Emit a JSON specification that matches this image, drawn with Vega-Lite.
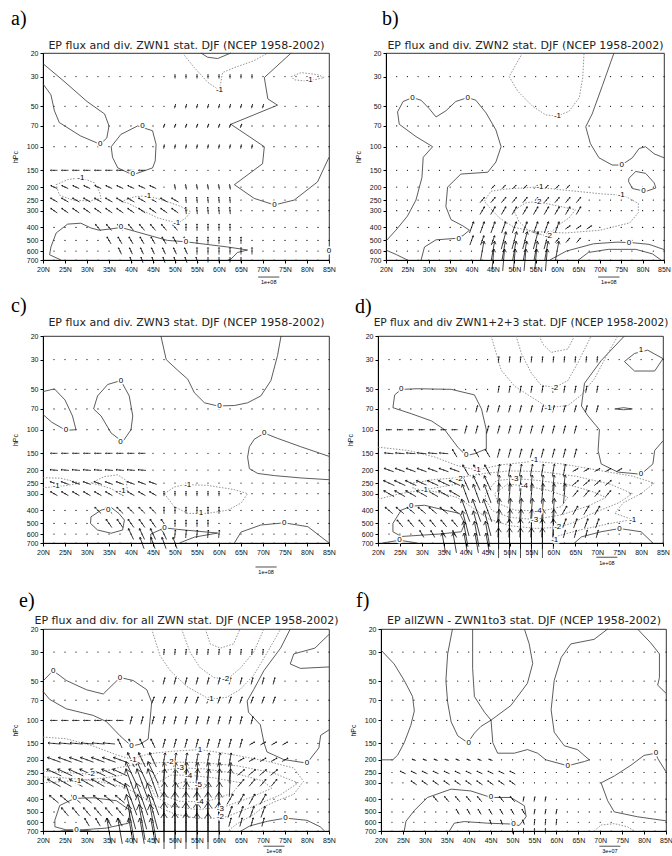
{
"$schema":"https://vega.github.io/schema/vega-lite/v6.json",
"padding":{"left":10,"top":8,"right":0,"bottom":0},
"autosize":{"type":"pad"},
"datasets":{
"G":[
{"x":22.5,"p":30},{"x":25,"p":30},{"x":27.5,"p":30},{"x":30,"p":30},{"x":32.5,"p":30},{"x":35,"p":30},{"x":37.5,"p":30},{"x":40,"p":30},{"x":42.5,"p":30},{"x":45,"p":30},{"x":47.5,"p":30},{"x":50,"p":30},{"x":52.5,"p":30},{"x":55,"p":30},{"x":57.5,"p":30},{"x":60,"p":30},{"x":62.5,"p":30},{"x":65,"p":30},{"x":67.5,"p":30},{"x":70,"p":30},{"x":72.5,"p":30},{"x":75,"p":30},{"x":77.5,"p":30},{"x":80,"p":30},{"x":82.5,"p":30},{"x":85,"p":30},
{"x":22.5,"p":50},{"x":25,"p":50},{"x":27.5,"p":50},{"x":30,"p":50},{"x":32.5,"p":50},{"x":35,"p":50},{"x":37.5,"p":50},{"x":40,"p":50},{"x":42.5,"p":50},{"x":45,"p":50},{"x":47.5,"p":50},{"x":50,"p":50},{"x":52.5,"p":50},{"x":55,"p":50},{"x":57.5,"p":50},{"x":60,"p":50},{"x":62.5,"p":50},{"x":65,"p":50},{"x":67.5,"p":50},{"x":70,"p":50},{"x":72.5,"p":50},{"x":75,"p":50},{"x":77.5,"p":50},{"x":80,"p":50},{"x":82.5,"p":50},{"x":85,"p":50},
{"x":22.5,"p":70},{"x":25,"p":70},{"x":27.5,"p":70},{"x":30,"p":70},{"x":32.5,"p":70},{"x":35,"p":70},{"x":37.5,"p":70},{"x":40,"p":70},{"x":42.5,"p":70},{"x":45,"p":70},{"x":47.5,"p":70},{"x":50,"p":70},{"x":52.5,"p":70},{"x":55,"p":70},{"x":57.5,"p":70},{"x":60,"p":70},{"x":62.5,"p":70},{"x":65,"p":70},{"x":67.5,"p":70},{"x":70,"p":70},{"x":72.5,"p":70},{"x":75,"p":70},{"x":77.5,"p":70},{"x":80,"p":70},{"x":82.5,"p":70},{"x":85,"p":70},
{"x":22.5,"p":100},{"x":25,"p":100},{"x":27.5,"p":100},{"x":30,"p":100},{"x":32.5,"p":100},{"x":35,"p":100},{"x":37.5,"p":100},{"x":40,"p":100},{"x":42.5,"p":100},{"x":45,"p":100},{"x":47.5,"p":100},{"x":50,"p":100},{"x":52.5,"p":100},{"x":55,"p":100},{"x":57.5,"p":100},{"x":60,"p":100},{"x":62.5,"p":100},{"x":65,"p":100},{"x":67.5,"p":100},{"x":70,"p":100},{"x":72.5,"p":100},{"x":75,"p":100},{"x":77.5,"p":100},{"x":80,"p":100},{"x":82.5,"p":100},{"x":85,"p":100},
{"x":22.5,"p":150},{"x":25,"p":150},{"x":27.5,"p":150},{"x":30,"p":150},{"x":32.5,"p":150},{"x":35,"p":150},{"x":37.5,"p":150},{"x":40,"p":150},{"x":42.5,"p":150},{"x":45,"p":150},{"x":47.5,"p":150},{"x":50,"p":150},{"x":52.5,"p":150},{"x":55,"p":150},{"x":57.5,"p":150},{"x":60,"p":150},{"x":62.5,"p":150},{"x":65,"p":150},{"x":67.5,"p":150},{"x":70,"p":150},{"x":72.5,"p":150},{"x":75,"p":150},{"x":77.5,"p":150},{"x":80,"p":150},{"x":82.5,"p":150},{"x":85,"p":150},
{"x":22.5,"p":200},{"x":25,"p":200},{"x":27.5,"p":200},{"x":30,"p":200},{"x":32.5,"p":200},{"x":35,"p":200},{"x":37.5,"p":200},{"x":40,"p":200},{"x":42.5,"p":200},{"x":45,"p":200},{"x":47.5,"p":200},{"x":50,"p":200},{"x":52.5,"p":200},{"x":55,"p":200},{"x":57.5,"p":200},{"x":60,"p":200},{"x":62.5,"p":200},{"x":65,"p":200},{"x":67.5,"p":200},{"x":70,"p":200},{"x":72.5,"p":200},{"x":75,"p":200},{"x":77.5,"p":200},{"x":80,"p":200},{"x":82.5,"p":200},{"x":85,"p":200},
{"x":22.5,"p":250},{"x":25,"p":250},{"x":27.5,"p":250},{"x":30,"p":250},{"x":32.5,"p":250},{"x":35,"p":250},{"x":37.5,"p":250},{"x":40,"p":250},{"x":42.5,"p":250},{"x":45,"p":250},{"x":47.5,"p":250},{"x":50,"p":250},{"x":52.5,"p":250},{"x":55,"p":250},{"x":57.5,"p":250},{"x":60,"p":250},{"x":62.5,"p":250},{"x":65,"p":250},{"x":67.5,"p":250},{"x":70,"p":250},{"x":72.5,"p":250},{"x":75,"p":250},{"x":77.5,"p":250},{"x":80,"p":250},{"x":82.5,"p":250},{"x":85,"p":250},
{"x":22.5,"p":300},{"x":25,"p":300},{"x":27.5,"p":300},{"x":30,"p":300},{"x":32.5,"p":300},{"x":35,"p":300},{"x":37.5,"p":300},{"x":40,"p":300},{"x":42.5,"p":300},{"x":45,"p":300},{"x":47.5,"p":300},{"x":50,"p":300},{"x":52.5,"p":300},{"x":55,"p":300},{"x":57.5,"p":300},{"x":60,"p":300},{"x":62.5,"p":300},{"x":65,"p":300},{"x":67.5,"p":300},{"x":70,"p":300},{"x":72.5,"p":300},{"x":75,"p":300},{"x":77.5,"p":300},{"x":80,"p":300},{"x":82.5,"p":300},{"x":85,"p":300},
{"x":22.5,"p":400},{"x":25,"p":400},{"x":27.5,"p":400},{"x":30,"p":400},{"x":32.5,"p":400},{"x":35,"p":400},{"x":37.5,"p":400},{"x":40,"p":400},{"x":42.5,"p":400},{"x":45,"p":400},{"x":47.5,"p":400},{"x":50,"p":400},{"x":52.5,"p":400},{"x":55,"p":400},{"x":57.5,"p":400},{"x":60,"p":400},{"x":62.5,"p":400},{"x":65,"p":400},{"x":67.5,"p":400},{"x":70,"p":400},{"x":72.5,"p":400},{"x":75,"p":400},{"x":77.5,"p":400},{"x":80,"p":400},{"x":82.5,"p":400},{"x":85,"p":400},
{"x":22.5,"p":500},{"x":25,"p":500},{"x":27.5,"p":500},{"x":30,"p":500},{"x":32.5,"p":500},{"x":35,"p":500},{"x":37.5,"p":500},{"x":40,"p":500},{"x":42.5,"p":500},{"x":45,"p":500},{"x":47.5,"p":500},{"x":50,"p":500},{"x":52.5,"p":500},{"x":55,"p":500},{"x":57.5,"p":500},{"x":60,"p":500},{"x":62.5,"p":500},{"x":65,"p":500},{"x":67.5,"p":500},{"x":70,"p":500},{"x":72.5,"p":500},{"x":75,"p":500},{"x":77.5,"p":500},{"x":80,"p":500},{"x":82.5,"p":500},{"x":85,"p":500},
{"x":22.5,"p":600},{"x":25,"p":600},{"x":27.5,"p":600},{"x":30,"p":600},{"x":32.5,"p":600},{"x":35,"p":600},{"x":37.5,"p":600},{"x":40,"p":600},{"x":42.5,"p":600},{"x":45,"p":600},{"x":47.5,"p":600},{"x":50,"p":600},{"x":52.5,"p":600},{"x":55,"p":600},{"x":57.5,"p":600},{"x":60,"p":600},{"x":62.5,"p":600},{"x":65,"p":600},{"x":67.5,"p":600},{"x":70,"p":600},{"x":72.5,"p":600},{"x":75,"p":600},{"x":77.5,"p":600},{"x":80,"p":600},{"x":82.5,"p":600},{"x":85,"p":600},
{"x":22.5,"p":700},{"x":25,"p":700},{"x":27.5,"p":700},{"x":30,"p":700},{"x":32.5,"p":700},{"x":35,"p":700},{"x":37.5,"p":700},{"x":40,"p":700},{"x":42.5,"p":700},{"x":45,"p":700},{"x":47.5,"p":700},{"x":50,"p":700},{"x":52.5,"p":700},{"x":55,"p":700},{"x":57.5,"p":700},{"x":60,"p":700},{"x":62.5,"p":700},{"x":65,"p":700},{"x":67.5,"p":700},{"x":70,"p":700},{"x":72.5,"p":700},{"x":75,"p":700},{"x":77.5,"p":700},{"x":80,"p":700},{"x":82.5,"p":700},{"x":85,"p":700}
],
"S":[
{"k":"a","c":1,"x":20,"p":24},{"k":"a","c":1,"x":25,"p":33},{"k":"a","c":1,"x":30,"p":46},{"k":"a","c":1,"x":34,"p":57},{"k":"a","c":1,"x":35,"p":70},{"k":"a","c":1,"x":34.5,"p":86},{"k":"a","c":1,"x":33,"p":96},{"k":"a","c":1,"x":28.5,"p":83},{"k":"a","c":1,"x":23.7,"p":66},{"k":"a","c":1,"x":22.6,"p":54},{"k":"a","c":1,"x":21.8,"p":41},{"k":"a","c":1,"x":20,"p":34},
{"k":"a","c":2,"x":35.5,"p":100},{"k":"a","c":2,"x":37.7,"p":81},{"k":"a","c":2,"x":41.5,"p":70},{"k":"a","c":2,"x":44.9,"p":76},{"k":"a","c":2,"x":45.7,"p":96},{"k":"a","c":2,"x":45.5,"p":128},{"k":"a","c":2,"x":44.9,"p":144},{"k":"a","c":2,"x":40.4,"p":162},{"k":"a","c":2,"x":37,"p":144},{"k":"a","c":2,"x":35.8,"p":120},{"k":"a","c":2,"x":35.5,"p":100},
{"k":"a","c":3,"x":24.1,"p":700},{"k":"a","c":3,"x":21.5,"p":640},{"k":"a","c":3,"x":21.8,"p":560},{"k":"a","c":3,"x":23,"p":440},{"k":"a","c":3,"x":25.6,"p":378},{"k":"a","c":3,"x":28.6,"p":372},{"k":"a","c":3,"x":30.9,"p":404},{"k":"a","c":3,"x":32.8,"p":420},{"k":"a","c":3,"x":35.5,"p":410},{"k":"a","c":3,"x":37.7,"p":400},{"k":"a","c":3,"x":40.8,"p":427},{"k":"a","c":3,"x":45.3,"p":470},{"k":"a","c":3,"x":48.3,"p":500},{"k":"a","c":3,"x":52.5,"p":512},{"k":"a","c":3,"x":55.9,"p":529},{"k":"a","c":3,"x":62,"p":560},{"k":"a","c":3,"x":66.5,"p":590},{"k":"a","c":3,"x":64.2,"p":615},{"k":"a","c":3,"x":62.7,"p":690},{"k":"a","c":3,"x":62,"p":700},
{"k":"a","c":4,"x":55.9,"p":20},{"k":"a","c":4,"x":57.4,"p":21.5},{"k":"a","c":4,"x":59.7,"p":22},{"k":"a","c":4,"x":62.7,"p":20},
{"k":"a","c":5,"x":76.4,"p":20},{"k":"a","c":5,"x":70.3,"p":30.5},{"k":"a","c":5,"x":71.1,"p":44},{"k":"a","c":5,"x":73.3,"p":49},{"k":"a","c":5,"x":62.7,"p":68},{"k":"a","c":5,"x":70.3,"p":100},{"k":"a","c":5,"x":69.9,"p":134},{"k":"a","c":5,"x":63.5,"p":192},{"k":"a","c":5,"x":68,"p":243},{"k":"a","c":5,"x":72.6,"p":272},{"k":"a","c":5,"x":77.1,"p":250},{"k":"a","c":5,"x":82.4,"p":183},{"k":"a","c":5,"x":85,"p":120},
{"k":"a","c":6,"x":85,"p":570},{"k":"a","c":6,"x":84.3,"p":600},{"k":"a","c":6,"x":85,"p":630},
{"k":"b","c":1,"x":20,"p":505},{"k":"b","c":1,"x":22.3,"p":420},{"k":"b","c":1,"x":25,"p":330},{"k":"b","c":1,"x":27,"p":250},{"k":"b","c":1,"x":28.4,"p":170},{"k":"b","c":1,"x":28.7,"p":120},{"k":"b","c":1,"x":30.9,"p":100},{"k":"b","c":1,"x":27,"p":84},{"k":"b","c":1,"x":23.1,"p":68},{"k":"b","c":1,"x":22.7,"p":55},{"k":"b","c":1,"x":24,"p":46},{"k":"b","c":1,"x":26.2,"p":43},{"k":"b","c":1,"x":28.2,"p":45},{"k":"b","c":1,"x":30.1,"p":52},{"k":"b","c":1,"x":31.7,"p":60},{"k":"b","c":1,"x":34,"p":54},{"k":"b","c":1,"x":36.3,"p":46},{"k":"b","c":1,"x":39.1,"p":43},{"k":"b","c":1,"x":41,"p":45},{"k":"b","c":1,"x":43.4,"p":56},{"k":"b","c":1,"x":45.7,"p":75},{"k":"b","c":1,"x":46.9,"p":100},{"k":"b","c":1,"x":45.7,"p":130},{"k":"b","c":1,"x":43.8,"p":155},{"k":"b","c":1,"x":37.5,"p":160},{"k":"b","c":1,"x":34.4,"p":200},{"k":"b","c":1,"x":34,"p":280},{"k":"b","c":1,"x":35.2,"p":350},{"k":"b","c":1,"x":38,"p":390},{"k":"b","c":1,"x":39.5,"p":420},{"k":"b","c":1,"x":38,"p":460},{"k":"b","c":1,"x":36.3,"p":483},{"k":"b","c":1,"x":31.7,"p":495},{"k":"b","c":1,"x":29,"p":560},{"k":"b","c":1,"x":28.2,"p":700},
{"k":"b","c":2,"x":20,"p":590},{"k":"b","c":2,"x":22.5,"p":640},{"k":"b","c":2,"x":25,"p":700},
{"k":"b","c":3,"x":73.3,"p":20},{"k":"b","c":3,"x":70.6,"p":35},{"k":"b","c":3,"x":68.2,"p":57},{"k":"b","c":3,"x":66.7,"p":71},{"k":"b","c":3,"x":67.8,"p":95},{"k":"b","c":3,"x":69.8,"p":121},{"k":"b","c":3,"x":72.9,"p":137},{"k":"b","c":3,"x":75.1,"p":137},{"k":"b","c":3,"x":77.6,"p":121},{"k":"b","c":3,"x":79.2,"p":103},{"k":"b","c":3,"x":80.7,"p":100},{"k":"b","c":3,"x":82.7,"p":113},{"k":"b","c":3,"x":85,"p":121},
{"k":"b","c":4,"x":76.8,"p":172},{"k":"b","c":4,"x":78.4,"p":153},{"k":"b","c":4,"x":80.7,"p":158},{"k":"b","c":4,"x":82.7,"p":186},{"k":"b","c":4,"x":83.1,"p":203},{"k":"b","c":4,"x":80.7,"p":216},{"k":"b","c":4,"x":77.6,"p":205},{"k":"b","c":4,"x":76.7,"p":181},{"k":"b","c":4,"x":76.8,"p":172},
{"k":"b","c":5,"x":58.3,"p":700},{"k":"b","c":5,"x":62.2,"p":600},{"k":"b","c":5,"x":68.5,"p":530},{"k":"b","c":5,"x":74,"p":515},{"k":"b","c":5,"x":77.6,"p":520},{"k":"b","c":5,"x":81.5,"p":535},{"k":"b","c":5,"x":85,"p":585},
{"k":"b","c":6,"x":65,"p":700},{"k":"b","c":6,"x":67.3,"p":615},{"k":"b","c":6,"x":72,"p":583},{"k":"b","c":6,"x":78.4,"p":583},{"k":"b","c":6,"x":82.3,"p":630},{"k":"b","c":6,"x":84.3,"p":700},
{"k":"c","c":1,"x":46.8,"p":20},{"k":"c","c":1,"x":48,"p":30},{"k":"c","c":1,"x":50.6,"p":36},{"k":"c","c":1,"x":52.9,"p":42},{"k":"c","c":1,"x":54.4,"p":53},{"k":"c","c":1,"x":56.7,"p":63},{"k":"c","c":1,"x":59.7,"p":66.5},{"k":"c","c":1,"x":63.5,"p":66},{"k":"c","c":1,"x":66.5,"p":63},{"k":"c","c":1,"x":69.5,"p":56},{"k":"c","c":1,"x":71.8,"p":43},{"k":"c","c":1,"x":73.3,"p":28},{"k":"c","c":1,"x":74.1,"p":20},
{"k":"c","c":2,"x":20,"p":52},{"k":"c","c":2,"x":22.6,"p":49.6},{"k":"c","c":2,"x":25,"p":60},{"k":"c","c":2,"x":26.7,"p":79},{"k":"c","c":2,"x":27.5,"p":100},{"k":"c","c":2,"x":25.2,"p":101},{"k":"c","c":2,"x":22,"p":88},{"k":"c","c":2,"x":20,"p":77},
{"k":"c","c":3,"x":37.7,"p":43},{"k":"c","c":3,"x":39.6,"p":56},{"k":"c","c":3,"x":40.4,"p":79},{"k":"c","c":3,"x":40,"p":100},{"k":"c","c":3,"x":38.1,"p":123},{"k":"c","c":3,"x":35.5,"p":106},{"k":"c","c":3,"x":33.2,"p":79},{"k":"c","c":3,"x":31.5,"p":70},{"k":"c","c":3,"x":32.4,"p":56},{"k":"c","c":3,"x":34.7,"p":46},{"k":"c","c":3,"x":37.7,"p":43},
{"k":"c","c":4,"x":85,"p":158},{"k":"c","c":4,"x":78.6,"p":134},{"k":"c","c":4,"x":73.3,"p":116},{"k":"c","c":4,"x":70.3,"p":106},{"k":"c","c":4,"x":68,"p":118},{"k":"c","c":4,"x":66.9,"p":134},{"k":"c","c":4,"x":66.5,"p":160},{"k":"c","c":4,"x":66.9,"p":195},{"k":"c","c":4,"x":68.8,"p":212},{"k":"c","c":4,"x":72.6,"p":220},{"k":"c","c":4,"x":78.6,"p":229},{"k":"c","c":4,"x":85,"p":236},
{"k":"c","c":5,"x":30.9,"p":447},{"k":"c","c":5,"x":33.2,"p":398},{"k":"c","c":5,"x":35.5,"p":380},{"k":"c","c":5,"x":37.3,"p":423},{"k":"c","c":5,"x":38.5,"p":472},{"k":"c","c":5,"x":38.1,"p":560},{"k":"c","c":5,"x":35.5,"p":592},{"k":"c","c":5,"x":32.4,"p":560},{"k":"c","c":5,"x":30.8,"p":500},{"k":"c","c":5,"x":30.9,"p":447},
{"k":"c","c":6,"x":44.5,"p":700},{"k":"c","c":6,"x":44.5,"p":600},{"k":"c","c":6,"x":47.6,"p":540},{"k":"c","c":6,"x":50.6,"p":554},{"k":"c","c":6,"x":59.7,"p":590},{"k":"c","c":6,"x":54.4,"p":633},{"k":"c","c":6,"x":51,"p":700},
{"k":"c","c":7,"x":63.5,"p":700},{"k":"c","c":7,"x":65,"p":580},{"k":"c","c":7,"x":69.5,"p":514},{"k":"c","c":7,"x":74.8,"p":495},{"k":"c","c":7,"x":80.2,"p":529},{"k":"c","c":7,"x":85,"p":700},
{"k":"d","c":1,"x":76.2,"p":20},{"k":"d","c":1,"x":70.9,"p":30.5},{"k":"d","c":1,"x":67.1,"p":45},{"k":"d","c":1,"x":66.4,"p":66.5},{"k":"d","c":1,"x":67.9,"p":79},{"k":"d","c":1,"x":70.5,"p":100},{"k":"d","c":1,"x":70.2,"p":143},{"k":"d","c":1,"x":70.9,"p":180},{"k":"d","c":1,"x":74.7,"p":207},{"k":"d","c":1,"x":80,"p":215},{"k":"d","c":1,"x":82.7,"p":180},{"k":"d","c":1,"x":83.1,"p":143},{"k":"d","c":1,"x":85,"p":121},
{"k":"d","c":2,"x":76.2,"p":31},{"k":"d","c":2,"x":78.5,"p":27},{"k":"d","c":2,"x":81.5,"p":25.5},{"k":"d","c":2,"x":85,"p":29.5},{"k":"d","c":2,"x":83.1,"p":36.5},{"k":"d","c":2,"x":78.5,"p":36.5},{"k":"d","c":2,"x":76.2,"p":31},
{"k":"d","c":3,"x":23.4,"p":68.5},{"k":"d","c":3,"x":23.8,"p":55},{"k":"d","c":3,"x":25.3,"p":50},{"k":"d","c":3,"x":29.1,"p":49.5},{"k":"d","c":3,"x":36.7,"p":50},{"k":"d","c":3,"x":42,"p":55},{"k":"d","c":3,"x":43.6,"p":70},{"k":"d","c":3,"x":44.7,"p":100},{"k":"d","c":3,"x":44.7,"p":139},{"k":"d","c":3,"x":42,"p":151},{"k":"d","c":3,"x":40.1,"p":156},{"k":"d","c":3,"x":38.2,"p":135},{"k":"d","c":3,"x":35.2,"p":100},{"k":"d","c":3,"x":32.2,"p":86},{"k":"d","c":3,"x":27.6,"p":76},{"k":"d","c":3,"x":23.4,"p":68.5},
{"k":"d","c":4,"x":23.4,"p":500},{"k":"d","c":4,"x":25.3,"p":398},{"k":"d","c":4,"x":27.6,"p":372},{"k":"d","c":4,"x":30.6,"p":366},{"k":"d","c":4,"x":35.2,"p":398},{"k":"d","c":4,"x":38.6,"p":421},{"k":"d","c":4,"x":39.8,"p":500},{"k":"d","c":4,"x":39,"p":577},{"k":"d","c":4,"x":34,"p":600},{"k":"d","c":4,"x":30.6,"p":610},{"k":"d","c":4,"x":25.3,"p":626},{"k":"d","c":4,"x":23.4,"p":577},{"k":"d","c":4,"x":23.4,"p":500},
{"k":"d","c":5,"x":21,"p":700},{"k":"d","c":5,"x":24.9,"p":668},{"k":"d","c":5,"x":29,"p":700},
{"k":"d","c":6,"x":64.8,"p":700},{"k":"d","c":6,"x":66.4,"p":630},{"k":"d","c":6,"x":70.9,"p":577},{"k":"d","c":6,"x":75.1,"p":546},{"k":"d","c":6,"x":80,"p":577},{"k":"d","c":6,"x":82.7,"p":700},
{"k":"d","c":7,"x":74,"p":70},{"k":"d","c":7,"x":76,"p":68.5},{"k":"d","c":7,"x":78,"p":70},{"k":"d","c":7,"x":76,"p":71},{"k":"d","c":7,"x":74,"p":70},
{"k":"e","c":1,"x":76.2,"p":20},{"k":"e","c":1,"x":74,"p":28},{"k":"e","c":1,"x":70.2,"p":41.6},{"k":"e","c":1,"x":67.9,"p":58},{"k":"e","c":1,"x":66.4,"p":71},{"k":"e","c":1,"x":66.7,"p":86.5},{"k":"e","c":1,"x":69.4,"p":108},{"k":"e","c":1,"x":70.2,"p":147},{"k":"e","c":1,"x":70.9,"p":174},{"k":"e","c":1,"x":74.7,"p":199},{"k":"e","c":1,"x":80,"p":212},{"k":"e","c":1,"x":82.7,"p":162},{"k":"e","c":1,"x":83.1,"p":130},{"k":"e","c":1,"x":85,"p":118},
{"k":"e","c":2,"x":85,"p":22},{"k":"e","c":2,"x":81.8,"p":28},{"k":"e","c":2,"x":77,"p":31},{"k":"e","c":2,"x":76.2,"p":37},{"k":"e","c":2,"x":78.5,"p":40},{"k":"e","c":2,"x":85,"p":39},
{"k":"e","c":3,"x":20,"p":50},{"k":"e","c":3,"x":22.3,"p":41.6},{"k":"e","c":3,"x":25.3,"p":49.5},{"k":"e","c":3,"x":29.9,"p":58.3},{"k":"e","c":3,"x":33.7,"p":62.8},{"k":"e","c":3,"x":37.5,"p":47},{"k":"e","c":3,"x":40.5,"p":49.5},{"k":"e","c":3,"x":43.6,"p":58.3},{"k":"e","c":3,"x":44.7,"p":72.7},{"k":"e","c":3,"x":44.3,"p":102},{"k":"e","c":3,"x":43.9,"p":139},{"k":"e","c":3,"x":42,"p":152},{"k":"e","c":3,"x":40.1,"p":157},{"k":"e","c":3,"x":37.5,"p":131},{"k":"e","c":3,"x":34.4,"p":102},{"k":"e","c":3,"x":31.4,"p":91.5},{"k":"e","c":3,"x":25.3,"p":81.5},{"k":"e","c":3,"x":21.5,"p":69},{"k":"e","c":3,"x":20,"p":60},
{"k":"e","c":4,"x":22.7,"p":578},{"k":"e","c":4,"x":23.8,"p":447},{"k":"e","c":4,"x":27.2,"p":394},{"k":"e","c":4,"x":31.4,"p":390},{"k":"e","c":4,"x":36.7,"p":411},{"k":"e","c":4,"x":39.8,"p":488},{"k":"e","c":4,"x":39.4,"p":610},{"k":"e","c":4,"x":34.4,"p":665},{"k":"e","c":4,"x":29,"p":685},{"k":"e","c":4,"x":25.2,"p":685},{"k":"e","c":4,"x":22.7,"p":650},{"k":"e","c":4,"x":22.7,"p":578},
{"k":"e","c":5,"x":65,"p":700},{"k":"e","c":5,"x":67,"p":640},{"k":"e","c":5,"x":71,"p":590},{"k":"e","c":5,"x":75.1,"p":558},{"k":"e","c":5,"x":80,"p":580},{"k":"e","c":5,"x":83,"p":650},{"k":"e","c":5,"x":84,"p":700},
{"k":"e","c":6,"x":24,"p":700},{"k":"e","c":6,"x":27.6,"p":688},{"k":"e","c":6,"x":31,"p":700},
{"k":"f","c":1,"x":20,"p":29},{"k":"f","c":1,"x":23,"p":37},{"k":"f","c":1,"x":25.3,"p":49.5},{"k":"f","c":1,"x":27.2,"p":65.6},{"k":"f","c":1,"x":27.6,"p":84.6},{"k":"f","c":1,"x":26.8,"p":109},{"k":"f","c":1,"x":25.3,"p":148},{"k":"f","c":1,"x":23.8,"p":184},{"k":"f","c":1,"x":22.7,"p":200},{"k":"f","c":1,"x":20,"p":200},
{"k":"f","c":2,"x":36.3,"p":20},{"k":"f","c":2,"x":35.2,"p":31},{"k":"f","c":2,"x":34.8,"p":49.5},{"k":"f","c":2,"x":35.2,"p":72.7},{"k":"f","c":2,"x":36,"p":102.5},{"k":"f","c":2,"x":37.5,"p":131},{"k":"f","c":2,"x":39.8,"p":148},{"k":"f","c":2,"x":41.3,"p":125},{"k":"f","c":2,"x":42.8,"p":111},{"k":"f","c":2,"x":45.1,"p":99.5},{"k":"f","c":2,"x":49.6,"p":77},{"k":"f","c":2,"x":53.4,"p":52},{"k":"f","c":2,"x":54.6,"p":36.7},{"k":"f","c":2,"x":53.8,"p":26},{"k":"f","c":2,"x":52.7,"p":20},
{"k":"f","c":3,"x":40.9,"p":20},{"k":"f","c":3,"x":40.9,"p":40},{"k":"f","c":3,"x":41.3,"p":65.6},{"k":"f","c":3,"x":43.6,"p":86.5},{"k":"f","c":3,"x":45.1,"p":99.5},{"k":"f","c":3,"x":45.5,"p":148},{"k":"f","c":3,"x":46.6,"p":178},{"k":"f","c":3,"x":50.4,"p":178},{"k":"f","c":3,"x":53.4,"p":167},{"k":"f","c":3,"x":55.7,"p":178},{"k":"f","c":3,"x":57.6,"p":200},{"k":"f","c":3,"x":62.6,"p":222},{"k":"f","c":3,"x":66.4,"p":206},{"k":"f","c":3,"x":67.5,"p":200},{"k":"f","c":3,"x":64.8,"p":167},{"k":"f","c":3,"x":61.8,"p":156},{"k":"f","c":3,"x":59.5,"p":123},{"k":"f","c":3,"x":58.8,"p":83},{"k":"f","c":3,"x":59.5,"p":49.5},{"k":"f","c":3,"x":61.1,"p":33},{"k":"f","c":3,"x":63.3,"p":26},{"k":"f","c":3,"x":68.6,"p":24},{"k":"f","c":3,"x":71.7,"p":20},
{"k":"f","c":4,"x":78.5,"p":20},{"k":"f","c":4,"x":81.5,"p":25.5},{"k":"f","c":4,"x":83.5,"p":31},{"k":"f","c":4,"x":83.5,"p":47},{"k":"f","c":4,"x":83.1,"p":53.7},{"k":"f","c":4,"x":85,"p":62},
{"k":"f","c":5,"x":85,"p":247},{"k":"f","c":5,"x":83.1,"p":195},{"k":"f","c":5,"x":82.7,"p":178},{"k":"f","c":5,"x":80,"p":185},{"k":"f","c":5,"x":77,"p":220},{"k":"f","c":5,"x":73.2,"p":266},{"k":"f","c":5,"x":70.2,"p":300},{"k":"f","c":5,"x":71.7,"p":411},{"k":"f","c":5,"x":73.2,"p":500},{"k":"f","c":5,"x":78.5,"p":545},{"k":"f","c":5,"x":85,"p":585},
{"k":"f","c":6,"x":25.3,"p":700},{"k":"f","c":6,"x":25.7,"p":589},{"k":"f","c":6,"x":27.6,"p":488},{"k":"f","c":6,"x":30.6,"p":388},{"k":"f","c":6,"x":36,"p":335},{"k":"f","c":6,"x":40.5,"p":346},{"k":"f","c":6,"x":45.1,"p":388},{"k":"f","c":6,"x":49.6,"p":388},{"k":"f","c":6,"x":52.7,"p":449},{"k":"f","c":6,"x":53.1,"p":545},{"k":"f","c":6,"x":51.5,"p":636},{"k":"f","c":6,"x":50.2,"p":620},{"k":"f","c":6,"x":44.3,"p":610},{"k":"f","c":6,"x":39,"p":593},{"k":"f","c":6,"x":36.7,"p":610},{"k":"f","c":6,"x":35.6,"p":700}
],
"D":[
{"k":"a","c":7,"x":23,"p":192},{"k":"a","c":7,"x":25.6,"p":176},{"k":"a","c":7,"x":28.6,"p":170},{"k":"a","c":7,"x":31.7,"p":186},{"k":"a","c":7,"x":32.8,"p":216},{"k":"a","c":7,"x":33.2,"p":243},{"k":"a","c":7,"x":30.5,"p":254},{"k":"a","c":7,"x":26.7,"p":250},{"k":"a","c":7,"x":23.7,"p":229},{"k":"a","c":7,"x":23,"p":192},
{"k":"a","c":8,"x":37.7,"p":257},{"k":"a","c":8,"x":40.8,"p":236},{"k":"a","c":8,"x":43.8,"p":232},{"k":"a","c":8,"x":48.3,"p":257},{"k":"a","c":8,"x":51.4,"p":280},{"k":"a","c":8,"x":53.5,"p":305},{"k":"a","c":8,"x":52.5,"p":340},{"k":"a","c":8,"x":50.6,"p":372},{"k":"a","c":8,"x":46.1,"p":340},{"k":"a","c":8,"x":42.3,"p":295},{"k":"a","c":8,"x":39.2,"p":263},{"k":"a","c":8,"x":37.7,"p":257},
{"k":"a","c":9,"x":51.7,"p":20},{"k":"a","c":9,"x":54.4,"p":25.7},{"k":"a","c":9,"x":57.4,"p":33},{"k":"a","c":9,"x":60.1,"p":38},{"k":"a","c":9,"x":60.8,"p":28},{"k":"a","c":9,"x":63.5,"p":25.7},{"k":"a","c":9,"x":68,"p":22.8},{"k":"a","c":9,"x":71.1,"p":20},
{"k":"a","c":10,"x":76.4,"p":30},{"k":"a","c":10,"x":78.7,"p":28},{"k":"a","c":10,"x":82.4,"p":29},{"k":"a","c":10,"x":83.9,"p":30.5},{"k":"a","c":10,"x":80.2,"p":32.5},{"k":"a","c":10,"x":77.1,"p":31.7},{"k":"a","c":10,"x":76.4,"p":30},
{"k":"b","c":7,"x":51.9,"p":20},{"k":"b","c":7,"x":48.8,"p":30},{"k":"b","c":7,"x":50.8,"p":38.5},{"k":"b","c":7,"x":54.3,"p":50},{"k":"b","c":7,"x":57.4,"p":58},{"k":"b","c":7,"x":60.1,"p":59},{"k":"b","c":7,"x":62.8,"p":54.4},{"k":"b","c":7,"x":65.2,"p":43},{"k":"b","c":7,"x":66,"p":30.5},{"k":"b","c":7,"x":66.3,"p":20},
{"k":"b","c":8,"x":43,"p":255},{"k":"b","c":8,"x":44.5,"p":215},{"k":"b","c":8,"x":48,"p":207},{"k":"b","c":8,"x":55,"p":200},{"k":"b","c":8,"x":62.5,"p":212},{"k":"b","c":8,"x":70.5,"p":225},{"k":"b","c":8,"x":75.5,"p":230},{"k":"b","c":8,"x":79,"p":265},{"k":"b","c":8,"x":79,"p":310},{"k":"b","c":8,"x":77,"p":370},{"k":"b","c":8,"x":70,"p":420},{"k":"b","c":8,"x":62,"p":440},{"k":"b","c":8,"x":55,"p":430},{"k":"b","c":8,"x":50,"p":400},{"k":"b","c":8,"x":46.5,"p":340},{"k":"b","c":8,"x":44.5,"p":290},{"k":"b","c":8,"x":43,"p":255},
{"k":"b","c":9,"x":50.8,"p":286},{"k":"b","c":9,"x":52.7,"p":262},{"k":"b","c":9,"x":55,"p":257},{"k":"b","c":9,"x":58.9,"p":271},{"k":"b","c":9,"x":64.3,"p":295},{"k":"b","c":9,"x":62.8,"p":340},{"k":"b","c":9,"x":60.5,"p":381},{"k":"b","c":9,"x":58.1,"p":450},{"k":"b","c":9,"x":57.7,"p":465},{"k":"b","c":9,"x":53.5,"p":427},{"k":"b","c":9,"x":51.1,"p":362},{"k":"b","c":9,"x":50,"p":304},{"k":"b","c":9,"x":50.8,"p":286},
{"k":"c","c":8,"x":20,"p":228},{"k":"c","c":8,"x":24,"p":230},{"k":"c","c":8,"x":28.5,"p":250},{"k":"c","c":8,"x":25,"p":262},{"k":"c","c":8,"x":22,"p":268},{"k":"c","c":8,"x":20,"p":270},
{"k":"c","c":9,"x":30.9,"p":250},{"k":"c","c":9,"x":33.9,"p":224},{"k":"c","c":9,"x":37,"p":217},{"k":"c","c":9,"x":38.9,"p":239},{"k":"c","c":9,"x":39.2,"p":284},{"k":"c","c":9,"x":36.5,"p":288},{"k":"c","c":9,"x":35.5,"p":275},{"k":"c","c":9,"x":33.2,"p":261},{"k":"c","c":9,"x":30.9,"p":250},
{"k":"c","c":10,"x":47.6,"p":300},{"k":"c","c":10,"x":49.8,"p":268},{"k":"c","c":10,"x":52.1,"p":257},{"k":"c","c":10,"x":57.4,"p":260},{"k":"c","c":10,"x":63.5,"p":280},{"k":"c","c":10,"x":66.5,"p":300},{"k":"c","c":10,"x":65,"p":353},{"k":"c","c":10,"x":62,"p":398},{"k":"c","c":10,"x":57.4,"p":421},{"k":"c","c":10,"x":52.9,"p":421},{"k":"c","c":10,"x":49.8,"p":374},{"k":"c","c":10,"x":47.6,"p":300},
{"k":"d","c":8,"x":20,"p":135},{"k":"d","c":8,"x":27,"p":143},{"k":"d","c":8,"x":33,"p":160},{"k":"d","c":8,"x":38,"p":185},{"k":"d","c":8,"x":42.5,"p":200},{"k":"d","c":8,"x":48,"p":183},{"k":"d","c":8,"x":55.5,"p":172},{"k":"d","c":8,"x":62,"p":180},{"k":"d","c":8,"x":70,"p":200},{"k":"d","c":8,"x":78,"p":222},{"k":"d","c":8,"x":83,"p":250},{"k":"d","c":8,"x":80,"p":300},{"k":"d","c":8,"x":76,"p":350},{"k":"d","c":8,"x":74,"p":420},{"k":"d","c":8,"x":78,"p":468},{"k":"d","c":8,"x":73,"p":500},{"k":"d","c":8,"x":66,"p":560},{"k":"d","c":8,"x":61,"p":620},{"k":"d","c":8,"x":60,"p":700},
{"k":"d","c":9,"x":20,"p":330},{"k":"d","c":9,"x":25,"p":300},{"k":"d","c":9,"x":30.6,"p":280},{"k":"d","c":9,"x":35,"p":265},{"k":"d","c":9,"x":38,"p":255},
{"k":"d","c":10,"x":28,"p":250},{"k":"d","c":10,"x":33,"p":235},{"k":"d","c":10,"x":38.5,"p":228},{"k":"d","c":10,"x":44,"p":212},{"k":"d","c":10,"x":50,"p":203},{"k":"d","c":10,"x":57,"p":205},{"k":"d","c":10,"x":65,"p":222},{"k":"d","c":10,"x":73,"p":255},{"k":"d","c":10,"x":78,"p":300},{"k":"d","c":10,"x":75,"p":350},{"k":"d","c":10,"x":69,"p":420},{"k":"d","c":10,"x":64,"p":500},{"k":"d","c":10,"x":61,"p":535},{"k":"d","c":10,"x":56,"p":545},{"k":"d","c":10,"x":50,"p":520},{"k":"d","c":10,"x":45,"p":460},{"k":"d","c":10,"x":42,"p":390},{"k":"d","c":10,"x":38,"p":320},{"k":"d","c":10,"x":33,"p":290},{"k":"d","c":10,"x":28,"p":275},{"k":"d","c":10,"x":28,"p":250},
{"k":"d","c":11,"x":44.5,"p":300},{"k":"d","c":11,"x":47,"p":240},{"k":"d","c":11,"x":51.2,"p":232},{"k":"d","c":11,"x":56,"p":238},{"k":"d","c":11,"x":63,"p":255},{"k":"d","c":11,"x":69,"p":290},{"k":"d","c":11,"x":72,"p":320},{"k":"d","c":11,"x":68,"p":370},{"k":"d","c":11,"x":62,"p":430},{"k":"d","c":11,"x":55.7,"p":468},{"k":"d","c":11,"x":50,"p":450},{"k":"d","c":11,"x":46,"p":400},{"k":"d","c":11,"x":44.5,"p":330},{"k":"d","c":11,"x":44.5,"p":300},
{"k":"d","c":12,"x":46.6,"p":300},{"k":"d","c":12,"x":49.6,"p":254},{"k":"d","c":12,"x":54.2,"p":265},{"k":"d","c":12,"x":58.8,"p":283},{"k":"d","c":12,"x":63.3,"p":318},{"k":"d","c":12,"x":61.8,"p":375},{"k":"d","c":12,"x":57.2,"p":405},{"k":"d","c":12,"x":51.2,"p":398},{"k":"d","c":12,"x":47.4,"p":355},{"k":"d","c":12,"x":46.6,"p":300},
{"k":"d","c":13,"x":45.8,"p":20},{"k":"d","c":13,"x":48.1,"p":36},{"k":"d","c":13,"x":51.2,"p":47.5},{"k":"d","c":13,"x":55.7,"p":59},{"k":"d","c":13,"x":58.8,"p":68.5},{"k":"d","c":13,"x":63.3,"p":66},{"k":"d","c":13,"x":66.4,"p":55},{"k":"d","c":13,"x":69.4,"p":41.5},{"k":"d","c":13,"x":72.4,"p":27},{"k":"d","c":13,"x":74.7,"p":20},
{"k":"d","c":14,"x":51.5,"p":20},{"k":"d","c":14,"x":52.7,"p":27},{"k":"d","c":14,"x":55,"p":38},{"k":"d","c":14,"x":57.2,"p":46.5},{"k":"d","c":14,"x":60.3,"p":48.5},{"k":"d","c":14,"x":63.3,"p":43},{"k":"d","c":14,"x":65.6,"p":31.6},{"k":"d","c":14,"x":68.6,"p":20},
{"k":"d","c":15,"x":56.8,"p":20},{"k":"d","c":15,"x":57.6,"p":23},{"k":"d","c":15,"x":59.5,"p":26.5},{"k":"d","c":15,"x":63.3,"p":25},{"k":"d","c":15,"x":64.8,"p":20},
{"k":"e","c":7,"x":44.7,"p":20},{"k":"e","c":7,"x":46.6,"p":32},{"k":"e","c":7,"x":48.9,"p":41.6},{"k":"e","c":7,"x":52.7,"p":55},{"k":"e","c":7,"x":57.2,"p":67},{"k":"e","c":7,"x":58,"p":69},{"k":"e","c":7,"x":61.8,"p":66.5},{"k":"e","c":7,"x":64.8,"p":58},{"k":"e","c":7,"x":67.9,"p":45},{"k":"e","c":7,"x":70.9,"p":30.5},{"k":"e","c":7,"x":74,"p":20},
{"k":"e","c":8,"x":51.5,"p":20},{"k":"e","c":8,"x":53.4,"p":30},{"k":"e","c":8,"x":55.7,"p":39.5},{"k":"e","c":8,"x":58.8,"p":47},{"k":"e","c":8,"x":61.8,"p":48.5},{"k":"e","c":8,"x":64.8,"p":40},{"k":"e","c":8,"x":67.9,"p":30},{"k":"e","c":8,"x":70.2,"p":20},
{"k":"e","c":9,"x":56.9,"p":20},{"k":"e","c":9,"x":58,"p":26},{"k":"e","c":9,"x":60.3,"p":28},{"k":"e","c":9,"x":63.3,"p":26},{"k":"e","c":9,"x":64.8,"p":20},
{"k":"e","c":10,"x":20,"p":134},{"k":"e","c":10,"x":25.3,"p":138},{"k":"e","c":10,"x":31.4,"p":157},{"k":"e","c":10,"x":36.7,"p":183},{"k":"e","c":10,"x":40.1,"p":198},{"k":"e","c":10,"x":44,"p":180},{"k":"e","c":10,"x":49.3,"p":172},{"k":"e","c":10,"x":55.7,"p":167},{"k":"e","c":10,"x":63.3,"p":183},{"k":"e","c":10,"x":70.9,"p":205},{"k":"e","c":10,"x":77,"p":231},{"k":"e","c":10,"x":79.2,"p":292},{"k":"e","c":10,"x":77,"p":367},{"k":"e","c":10,"x":73.2,"p":411},{"k":"e","c":10,"x":70.2,"p":456},{"k":"e","c":10,"x":68,"p":520},{"k":"e","c":10,"x":64,"p":620},{"k":"e","c":10,"x":62,"p":700},
{"k":"e","c":11,"x":20,"p":245},{"k":"e","c":11,"x":25,"p":250},{"k":"e","c":11,"x":31.3,"p":258},{"k":"e","c":11,"x":37,"p":230},{"k":"e","c":11,"x":42,"p":215},{"k":"e","c":11,"x":48.9,"p":208},{"k":"e","c":11,"x":56,"p":210},{"k":"e","c":11,"x":64,"p":222},{"k":"e","c":11,"x":72,"p":250},{"k":"e","c":11,"x":78,"p":300},{"k":"e","c":11,"x":74,"p":370},{"k":"e","c":11,"x":68,"p":450},{"k":"e","c":11,"x":62,"p":540},{"k":"e","c":11,"x":60,"p":560},{"k":"e","c":11,"x":55,"p":560},{"k":"e","c":11,"x":50,"p":520},{"k":"e","c":11,"x":45,"p":440},{"k":"e","c":11,"x":42,"p":370},{"k":"e","c":11,"x":38,"p":320},{"k":"e","c":11,"x":32,"p":290},{"k":"e","c":11,"x":25,"p":275},{"k":"e","c":11,"x":20,"p":270},
{"k":"e","c":12,"x":44,"p":300},{"k":"e","c":12,"x":46.5,"p":245},{"k":"e","c":12,"x":51.2,"p":230},{"k":"e","c":12,"x":57,"p":235},{"k":"e","c":12,"x":64,"p":255},{"k":"e","c":12,"x":70,"p":290},{"k":"e","c":12,"x":72,"p":330},{"k":"e","c":12,"x":67,"p":390},{"k":"e","c":12,"x":61,"p":460},{"k":"e","c":12,"x":55,"p":480},{"k":"e","c":12,"x":49,"p":450},{"k":"e","c":12,"x":45.5,"p":380},{"k":"e","c":12,"x":44,"p":300},
{"k":"e","c":13,"x":46,"p":300},{"k":"e","c":13,"x":49,"p":262},{"k":"e","c":13,"x":53.1,"p":262},{"k":"e","c":13,"x":59,"p":275},{"k":"e","c":13,"x":65,"p":300},{"k":"e","c":13,"x":63,"p":360},{"k":"e","c":13,"x":57,"p":420},{"k":"e","c":13,"x":51,"p":415},{"k":"e","c":13,"x":47,"p":370},{"k":"e","c":13,"x":46,"p":300},
{"k":"e","c":14,"x":50,"p":310},{"k":"e","c":14,"x":52,"p":295},{"k":"e","c":14,"x":56,"p":300},{"k":"e","c":14,"x":58,"p":320},{"k":"e","c":14,"x":55,"p":335},{"k":"e","c":14,"x":51,"p":330},{"k":"e","c":14,"x":50,"p":310},
{"k":"e","c":15,"x":20,"p":300},{"k":"e","c":15,"x":27.9,"p":288},{"k":"e","c":15,"x":34,"p":275},{"k":"e","c":15,"x":38,"p":262},
{"k":"f","c":7,"x":68.6,"p":700},{"k":"f","c":7,"x":70.2,"p":630},{"k":"f","c":7,"x":73.2,"p":615},{"k":"f","c":7,"x":76.2,"p":650},{"k":"f","c":7,"x":77.8,"p":700}
],
"L":[
{"k":"a","x":33,"p":96,"t":"0"},{"k":"a","x":42.6,"p":70,"t":"0"},{"k":"a","x":40.4,"p":161,"t":"0"},{"k":"a","x":28.6,"p":170,"t":"-1"},{"k":"a","x":43.8,"p":232,"t":"-1"},{"k":"a","x":50.4,"p":370,"t":"-1"},{"k":"a","x":37.7,"p":400,"t":"0"},{"k":"a","x":52.5,"p":512,"t":"0"},{"k":"a","x":60.1,"p":38,"t":"-1"},{"k":"a","x":72.6,"p":272,"t":"0"},{"k":"a","x":80.5,"p":32,"t":"-1"},{"k":"a","x":85,"p":600,"t":"0"},
{"k":"b","x":26.2,"p":43,"t":"0"},{"k":"b","x":39.1,"p":43,"t":"0"},{"k":"b","x":37,"p":485,"t":"0"},{"k":"b","x":60.1,"p":59,"t":"-1"},{"k":"b","x":75.1,"p":137,"t":"0"},{"k":"b","x":80.2,"p":214,"t":"0"},{"k":"b","x":56,"p":200,"t":"-1"},{"k":"b","x":75,"p":228,"t":"-1"},{"k":"b","x":55.5,"p":257,"t":"-2"},{"k":"b","x":58,"p":462,"t":"-2"},{"k":"b","x":76.8,"p":520,"t":"0"},
{"k":"c","x":60.1,"p":66,"t":"0"},{"k":"c","x":25.2,"p":101,"t":"0"},{"k":"c","x":37.7,"p":43,"t":"0"},{"k":"c","x":37.6,"p":123,"t":"0"},{"k":"c","x":70.3,"p":106,"t":"0"},{"k":"c","x":23,"p":262,"t":"-1"},{"k":"c","x":38,"p":288,"t":"-1"},{"k":"c","x":52.9,"p":258,"t":"-1"},{"k":"c","x":55.9,"p":421,"t":"1"},{"k":"c","x":34.8,"p":394,"t":"0"},{"k":"c","x":47.6,"p":540,"t":"0"},{"k":"c","x":74.8,"p":497,"t":"0"},
{"k":"d","x":58.8,"p":69,"t":"-1"},{"k":"d","x":60.3,"p":48.5,"t":"-2"},{"k":"d","x":80,"p":215,"t":"0"},{"k":"d","x":80,"p":25.5,"t":"1"},{"k":"d","x":25.3,"p":50,"t":"0"},{"k":"d","x":40.1,"p":155,"t":"0"},{"k":"d","x":42.6,"p":201,"t":"-1"},{"k":"d","x":55.7,"p":167,"t":"-1"},{"k":"d","x":38.5,"p":232,"t":"-2"},{"k":"d","x":30.6,"p":280,"t":"-1"},{"k":"d","x":51.2,"p":235,"t":"-3"},{"k":"d","x":53.4,"p":265,"t":"-4"},{"k":"d","x":56.5,"p":405,"t":"-4"},{"k":"d","x":55.7,"p":468,"t":"-3"},{"k":"d","x":61,"p":535,"t":"-2"},{"k":"d","x":60.3,"p":670,"t":"-1"},{"k":"d","x":27.6,"p":370,"t":"0"},{"k":"d","x":24.9,"p":668,"t":"0"},{"k":"d","x":75.1,"p":546,"t":"0"},{"k":"d","x":78.1,"p":468,"t":"-1"},
{"k":"e","x":58,"p":69,"t":"-1"},{"k":"e","x":61.5,"p":48.5,"t":"-2"},{"k":"e","x":80,"p":212,"t":"0"},{"k":"e","x":22.3,"p":42,"t":"0"},{"k":"e","x":37.5,"p":47,"t":"0"},{"k":"e","x":40.1,"p":157,"t":"0"},{"k":"e","x":40.5,"p":200,"t":"-1"},{"k":"e","x":55.7,"p":167,"t":"1"},{"k":"e","x":48.9,"p":208,"t":"-2"},{"k":"e","x":31,"p":258,"t":"-2"},{"k":"e","x":51.2,"p":231,"t":"-3"},{"k":"e","x":53.1,"p":265,"t":"-4"},{"k":"e","x":55.3,"p":309,"t":"-5"},{"k":"e","x":55.7,"p":422,"t":"-4"},{"k":"e","x":60.3,"p":475,"t":"-3"},{"k":"e","x":60.3,"p":547,"t":"-2"},{"k":"e","x":27.9,"p":288,"t":"-1"},{"k":"e","x":27.2,"p":392,"t":"0"},{"k":"e","x":27.6,"p":690,"t":"0"},{"k":"e","x":75.1,"p":558,"t":"0"},
{"k":"f","x":40,"p":150,"t":"0"},{"k":"f","x":62.6,"p":222,"t":"0"},{"k":"f","x":82.7,"p":178,"t":"0"},{"k":"f","x":45.1,"p":388,"t":"0"},{"k":"f","x":50.2,"p":620,"t":"0"}
],
"R":[
{"k":"a","x":71.3,"p":1022,"q":938,"x1":68.9,"x2":73.7,"t":"1e+08"},
{"k":"b","x":72.1,"p":1022,"q":938,"x1":69.6,"x2":74.6,"t":"1e+08"},
{"k":"c","x":70.7,"p":1152,"q":1057,"x1":68.3,"x2":73.1,"t":"1e+08"},
{"k":"d","x":72.2,"p":986,"q":894,"x1":69.8,"x2":74.6,"t":"1e+08"},
{"k":"e","x":72.5,"p":990,"q":915,"x1":70.1,"x2":74.9,"t":"1e+08"},
{"k":"f","x":72.2,"p":990,"q":915,"x1":69.8,"x2":74.6,"t":"3e+07"}
],
"A":[
{"k":"a","x":50,"p":30,"l":4,"g":0},{"k":"a","x":52.5,"p":30,"l":4,"g":0},{"k":"a","x":55,"p":30,"l":4,"g":0},{"k":"a","x":57.5,"p":30,"l":4,"g":0},{"k":"a","x":60,"p":30,"l":4,"g":0},{"k":"a","x":62.5,"p":30,"l":4,"g":0},{"k":"a","x":65,"p":30,"l":4,"g":0},{"k":"a","x":67.5,"p":30,"l":4,"g":0},
{"k":"a","x":50,"p":50,"l":4,"g":15},{"k":"a","x":52.5,"p":50,"l":4,"g":15},{"k":"a","x":55,"p":50,"l":4,"g":15},{"k":"a","x":57.5,"p":50,"l":4,"g":15},{"k":"a","x":60,"p":50,"l":4,"g":15},{"k":"a","x":62.5,"p":50,"l":4,"g":15},{"k":"a","x":65,"p":50,"l":4,"g":15},{"k":"a","x":67.5,"p":50,"l":4,"g":15},{"k":"a","x":70,"p":50,"l":4,"g":15},
{"k":"a","x":47.5,"p":70,"l":4,"g":20},{"k":"a","x":50,"p":70,"l":4,"g":20},{"k":"a","x":52.5,"p":70,"l":4,"g":20},{"k":"a","x":55,"p":70,"l":4,"g":20},{"k":"a","x":57.5,"p":70,"l":4,"g":20},{"k":"a","x":60,"p":70,"l":4,"g":20},{"k":"a","x":62.5,"p":70,"l":4,"g":20},{"k":"a","x":65,"p":70,"l":4,"g":20},
{"k":"a","x":47.5,"p":100,"l":4,"g":10},{"k":"a","x":50,"p":100,"l":4,"g":10},{"k":"a","x":52.5,"p":100,"l":4,"g":10},{"k":"a","x":55,"p":100,"l":4,"g":10},{"k":"a","x":57.5,"p":100,"l":4,"g":10},{"k":"a","x":60,"p":100,"l":4,"g":10},{"k":"a","x":62.5,"p":100,"l":4,"g":10},{"k":"a","x":65,"p":100,"l":4,"g":10},{"k":"a","x":67.5,"p":100,"l":4,"g":10},
{"k":"a","x":22.5,"p":150,"l":7,"g":270},{"k":"a","x":25,"p":150,"l":7,"g":270},{"k":"a","x":27.5,"p":150,"l":7,"g":270},{"k":"a","x":30,"p":150,"l":7,"g":270},{"k":"a","x":32.5,"p":150,"l":7,"g":270},{"k":"a","x":35,"p":150,"l":7,"g":270},{"k":"a","x":37.5,"p":150,"l":7,"g":270},{"k":"a","x":40,"p":150,"l":7,"g":270},{"k":"a","x":42.5,"p":150,"l":7,"g":270},
{"k":"a","x":22.5,"p":200,"l":7,"g":295},{"k":"a","x":25,"p":200,"l":7,"g":295},{"k":"a","x":27.5,"p":200,"l":7,"g":295},{"k":"a","x":30,"p":200,"l":7,"g":295},{"k":"a","x":32.5,"p":200,"l":7,"g":295},{"k":"a","x":35,"p":200,"l":7,"g":295},{"k":"a","x":37.5,"p":200,"l":7,"g":295},{"k":"a","x":40,"p":200,"l":7,"g":295},{"k":"a","x":42.5,"p":200,"l":7,"g":295},{"k":"a","x":45,"p":200,"l":7,"g":295},
{"k":"a","x":50,"p":200,"l":5,"g":350},{"k":"a","x":52.5,"p":200,"l":5,"g":350},{"k":"a","x":55,"p":200,"l":5,"g":350},{"k":"a","x":57.5,"p":200,"l":5,"g":350},{"k":"a","x":60,"p":200,"l":5,"g":350},{"k":"a","x":62.5,"p":200,"l":5,"g":350},
{"k":"a","x":22.5,"p":250,"l":8,"g":300},{"k":"a","x":25,"p":250,"l":8,"g":300},{"k":"a","x":27.5,"p":250,"l":8,"g":300},{"k":"a","x":30,"p":250,"l":8,"g":300},{"k":"a","x":32.5,"p":250,"l":8,"g":300},{"k":"a","x":35,"p":250,"l":8,"g":300},{"k":"a","x":37.5,"p":250,"l":8,"g":300},{"k":"a","x":40,"p":250,"l":8,"g":300},{"k":"a","x":42.5,"p":250,"l":8,"g":300},{"k":"a","x":45,"p":250,"l":8,"g":300},{"k":"a","x":47.5,"p":250,"l":8,"g":300},{"k":"a","x":50,"p":250,"l":8,"g":300},
{"k":"a","x":52.5,"p":250,"l":6,"g":355},{"k":"a","x":55,"p":250,"l":6,"g":355},{"k":"a","x":57.5,"p":250,"l":6,"g":355},{"k":"a","x":60,"p":250,"l":6,"g":355},{"k":"a","x":62.5,"p":250,"l":6,"g":355},
{"k":"a","x":22.5,"p":300,"l":8,"g":305},{"k":"a","x":25,"p":300,"l":8,"g":305},{"k":"a","x":27.5,"p":300,"l":8,"g":305},{"k":"a","x":30,"p":300,"l":8,"g":305},{"k":"a","x":32.5,"p":300,"l":8,"g":305},{"k":"a","x":35,"p":300,"l":8,"g":305},{"k":"a","x":37.5,"p":300,"l":8,"g":305},{"k":"a","x":40,"p":300,"l":8,"g":305},{"k":"a","x":42.5,"p":300,"l":8,"g":305},{"k":"a","x":45,"p":300,"l":8,"g":305},{"k":"a","x":47.5,"p":300,"l":8,"g":305},{"k":"a","x":50,"p":300,"l":8,"g":305},
{"k":"a","x":52.5,"p":300,"l":7,"g":355},{"k":"a","x":55,"p":300,"l":7,"g":355},{"k":"a","x":57.5,"p":300,"l":7,"g":355},{"k":"a","x":60,"p":300,"l":7,"g":355},{"k":"a","x":62.5,"p":300,"l":7,"g":355},
{"k":"a","x":32.5,"p":400,"l":8,"g":320},{"k":"a","x":35,"p":400,"l":8,"g":320},{"k":"a","x":37.5,"p":400,"l":8,"g":320},{"k":"a","x":40,"p":400,"l":8,"g":320},{"k":"a","x":42.5,"p":400,"l":8,"g":320},{"k":"a","x":45,"p":400,"l":8,"g":320},{"k":"a","x":47.5,"p":400,"l":8,"g":320},{"k":"a","x":50,"p":400,"l":8,"g":320},
{"k":"a","x":52.5,"p":400,"l":7,"g":0},{"k":"a","x":55,"p":400,"l":7,"g":0},{"k":"a","x":57.5,"p":400,"l":7,"g":0},{"k":"a","x":60,"p":400,"l":7,"g":0},{"k":"a","x":62.5,"p":400,"l":7,"g":0},
{"k":"a","x":35,"p":500,"l":8,"g":330},{"k":"a","x":37.5,"p":500,"l":8,"g":330},{"k":"a","x":40,"p":500,"l":8,"g":330},{"k":"a","x":42.5,"p":500,"l":8,"g":330},{"k":"a","x":45,"p":500,"l":8,"g":330},{"k":"a","x":47.5,"p":500,"l":8,"g":330},{"k":"a","x":50,"p":500,"l":8,"g":330},{"k":"a","x":52.5,"p":500,"l":8,"g":330},
{"k":"a","x":55,"p":500,"l":7,"g":0},{"k":"a","x":57.5,"p":500,"l":7,"g":0},{"k":"a","x":60,"p":500,"l":7,"g":0},{"k":"a","x":62.5,"p":500,"l":7,"g":0},{"k":"a","x":65,"p":500,"l":7,"g":0},
{"k":"a","x":37.5,"p":600,"l":7,"g":335},{"k":"a","x":40,"p":600,"l":7,"g":335},{"k":"a","x":42.5,"p":600,"l":7,"g":335},{"k":"a","x":45,"p":600,"l":7,"g":335},{"k":"a","x":47.5,"p":600,"l":7,"g":335},{"k":"a","x":50,"p":600,"l":7,"g":335},{"k":"a","x":52.5,"p":600,"l":7,"g":335},
{"k":"a","x":55,"p":600,"l":7,"g":0},{"k":"a","x":57.5,"p":600,"l":7,"g":0},{"k":"a","x":60,"p":600,"l":7,"g":0},{"k":"a","x":62.5,"p":600,"l":7,"g":0},{"k":"a","x":65,"p":600,"l":7,"g":0},{"k":"a","x":67.5,"p":600,"l":7,"g":0},
{"k":"a","x":40,"p":700,"l":6,"g":340},{"k":"a","x":42.5,"p":700,"l":6,"g":340},{"k":"a","x":45,"p":700,"l":6,"g":340},{"k":"a","x":47.5,"p":700,"l":6,"g":340},{"k":"a","x":50,"p":700,"l":6,"g":340},{"k":"a","x":52.5,"p":700,"l":6,"g":340},{"k":"a","x":55,"p":700,"l":6,"g":340},
{"k":"a","x":57.5,"p":700,"l":5,"g":0},{"k":"a","x":60,"p":700,"l":5,"g":0},{"k":"a","x":62.5,"p":700,"l":5,"g":0},{"k":"a","x":65,"p":700,"l":5,"g":0},
{"k":"b","x":45,"p":200,"l":5,"g":45},{"k":"b","x":47.5,"p":200,"l":5,"g":45},{"k":"b","x":50,"p":200,"l":5,"g":45},{"k":"b","x":52.5,"p":200,"l":5,"g":45},{"k":"b","x":55,"p":200,"l":5,"g":45},{"k":"b","x":57.5,"p":200,"l":5,"g":45},{"k":"b","x":60,"p":200,"l":5,"g":45},{"k":"b","x":62.5,"p":200,"l":5,"g":45},
{"k":"b","x":42.5,"p":250,"l":7,"g":40},{"k":"b","x":45,"p":250,"l":7,"g":40},{"k":"b","x":47.5,"p":250,"l":7,"g":40},{"k":"b","x":50,"p":250,"l":7,"g":40},{"k":"b","x":52.5,"p":250,"l":7,"g":40},{"k":"b","x":55,"p":250,"l":7,"g":40},{"k":"b","x":57.5,"p":250,"l":7,"g":40},{"k":"b","x":60,"p":250,"l":7,"g":40},{"k":"b","x":62.5,"p":250,"l":7,"g":40},{"k":"b","x":65,"p":250,"l":7,"g":40},
{"k":"b","x":42.5,"p":300,"l":9,"g":30},{"k":"b","x":45,"p":300,"l":9,"g":30},{"k":"b","x":47.5,"p":300,"l":9,"g":30},{"k":"b","x":50,"p":300,"l":9,"g":30},{"k":"b","x":52.5,"p":300,"l":9,"g":30},{"k":"b","x":55,"p":300,"l":9,"g":30},{"k":"b","x":57.5,"p":300,"l":9,"g":30},{"k":"b","x":60,"p":300,"l":9,"g":30},{"k":"b","x":62.5,"p":300,"l":9,"g":30},{"k":"b","x":65,"p":300,"l":9,"g":30},
{"k":"b","x":40,"p":400,"l":12,"g":20},{"k":"b","x":42.5,"p":400,"l":12,"g":20},{"k":"b","x":45,"p":400,"l":12,"g":20},{"k":"b","x":47.5,"p":400,"l":12,"g":20},{"k":"b","x":50,"p":400,"l":12,"g":20},{"k":"b","x":52.5,"p":400,"l":12,"g":20},{"k":"b","x":55,"p":400,"l":12,"g":20},{"k":"b","x":57.5,"p":400,"l":12,"g":20},{"k":"b","x":60,"p":400,"l":12,"g":20},
{"k":"b","x":62.5,"p":400,"l":6,"g":55},{"k":"b","x":65,"p":400,"l":6,"g":55},{"k":"b","x":67.5,"p":400,"l":6,"g":55},
{"k":"b","x":40,"p":500,"l":10,"g":20},{"k":"b","x":42.5,"p":500,"l":10,"g":20},{"k":"b","x":45,"p":500,"l":10,"g":20},{"k":"b","x":47.5,"p":500,"l":18,"g":15},{"k":"b","x":50,"p":500,"l":18,"g":15},{"k":"b","x":52.5,"p":500,"l":18,"g":15},{"k":"b","x":55,"p":500,"l":18,"g":15},{"k":"b","x":57.5,"p":500,"l":18,"g":15},{"k":"b","x":60,"p":500,"l":6,"g":40},{"k":"b","x":62.5,"p":500,"l":6,"g":40},{"k":"b","x":65,"p":500,"l":6,"g":40},
{"k":"b","x":42.5,"p":600,"l":20,"g":10},{"k":"b","x":45,"p":600,"l":20,"g":10},{"k":"b","x":47.5,"p":600,"l":20,"g":10},{"k":"b","x":50,"p":600,"l":20,"g":10},{"k":"b","x":52.5,"p":600,"l":20,"g":10},{"k":"b","x":55,"p":600,"l":20,"g":10},{"k":"b","x":57.5,"p":600,"l":20,"g":10},{"k":"b","x":60,"p":600,"l":20,"g":10},
{"k":"b","x":45,"p":700,"l":22,"g":5},{"k":"b","x":47.5,"p":700,"l":22,"g":5},{"k":"b","x":50,"p":700,"l":22,"g":5},{"k":"b","x":52.5,"p":700,"l":22,"g":5},{"k":"b","x":55,"p":700,"l":22,"g":5},{"k":"b","x":57.5,"p":700,"l":22,"g":5},
{"k":"c","x":22.5,"p":150,"l":7,"g":270},{"k":"c","x":25,"p":150,"l":7,"g":270},{"k":"c","x":27.5,"p":150,"l":7,"g":270},{"k":"c","x":30,"p":150,"l":7,"g":270},{"k":"c","x":32.5,"p":150,"l":7,"g":270},{"k":"c","x":35,"p":150,"l":7,"g":270},{"k":"c","x":37.5,"p":150,"l":7,"g":270},{"k":"c","x":40,"p":150,"l":7,"g":270},{"k":"c","x":42.5,"p":150,"l":7,"g":270},
{"k":"c","x":22.5,"p":200,"l":8,"g":275},{"k":"c","x":25,"p":200,"l":8,"g":275},{"k":"c","x":27.5,"p":200,"l":8,"g":275},{"k":"c","x":30,"p":200,"l":8,"g":275},{"k":"c","x":32.5,"p":200,"l":8,"g":275},{"k":"c","x":35,"p":200,"l":8,"g":275},{"k":"c","x":37.5,"p":200,"l":8,"g":275},{"k":"c","x":40,"p":200,"l":8,"g":275},{"k":"c","x":42.5,"p":200,"l":8,"g":275},
{"k":"c","x":22.5,"p":250,"l":8,"g":290},{"k":"c","x":25,"p":250,"l":8,"g":290},{"k":"c","x":27.5,"p":250,"l":8,"g":290},{"k":"c","x":30,"p":250,"l":8,"g":290},{"k":"c","x":32.5,"p":250,"l":8,"g":290},{"k":"c","x":35,"p":250,"l":8,"g":290},{"k":"c","x":37.5,"p":250,"l":8,"g":290},{"k":"c","x":40,"p":250,"l":8,"g":290},{"k":"c","x":42.5,"p":250,"l":8,"g":290},{"k":"c","x":45,"p":250,"l":8,"g":290},
{"k":"c","x":22.5,"p":300,"l":8,"g":300},{"k":"c","x":25,"p":300,"l":8,"g":300},{"k":"c","x":27.5,"p":300,"l":8,"g":300},{"k":"c","x":30,"p":300,"l":8,"g":300},{"k":"c","x":32.5,"p":300,"l":8,"g":300},{"k":"c","x":35,"p":300,"l":8,"g":300},{"k":"c","x":37.5,"p":300,"l":8,"g":300},{"k":"c","x":40,"p":300,"l":8,"g":300},{"k":"c","x":42.5,"p":300,"l":8,"g":300},{"k":"c","x":45,"p":300,"l":8,"g":300},
{"k":"c","x":47.5,"p":300,"l":5,"g":0},{"k":"c","x":50,"p":300,"l":5,"g":0},{"k":"c","x":52.5,"p":300,"l":5,"g":0},{"k":"c","x":55,"p":300,"l":5,"g":0},{"k":"c","x":57.5,"p":300,"l":5,"g":0},{"k":"c","x":60,"p":300,"l":5,"g":0},
{"k":"c","x":32.5,"p":400,"l":9,"g":315},{"k":"c","x":35,"p":400,"l":9,"g":315},{"k":"c","x":37.5,"p":400,"l":9,"g":315},{"k":"c","x":40,"p":400,"l":9,"g":315},{"k":"c","x":42.5,"p":400,"l":9,"g":315},{"k":"c","x":45,"p":400,"l":9,"g":315},
{"k":"c","x":47.5,"p":400,"l":7,"g":0},{"k":"c","x":50,"p":400,"l":7,"g":0},{"k":"c","x":52.5,"p":400,"l":7,"g":0},{"k":"c","x":55,"p":400,"l":7,"g":0},{"k":"c","x":57.5,"p":400,"l":7,"g":0},{"k":"c","x":60,"p":400,"l":7,"g":0},
{"k":"c","x":35,"p":500,"l":10,"g":325},{"k":"c","x":37.5,"p":500,"l":10,"g":325},{"k":"c","x":40,"p":500,"l":10,"g":325},{"k":"c","x":42.5,"p":500,"l":10,"g":325},{"k":"c","x":45,"p":500,"l":10,"g":325},{"k":"c","x":47.5,"p":500,"l":10,"g":325},
{"k":"c","x":50,"p":500,"l":7,"g":0},{"k":"c","x":52.5,"p":500,"l":7,"g":0},{"k":"c","x":55,"p":500,"l":7,"g":0},{"k":"c","x":57.5,"p":500,"l":7,"g":0},
{"k":"c","x":40,"p":600,"l":12,"g":335},{"k":"c","x":42.5,"p":600,"l":12,"g":335},{"k":"c","x":45,"p":600,"l":12,"g":335},{"k":"c","x":47.5,"p":600,"l":12,"g":335},
{"k":"c","x":50,"p":600,"l":8,"g":5},{"k":"c","x":52.5,"p":600,"l":8,"g":5},{"k":"c","x":55,"p":600,"l":8,"g":5},{"k":"c","x":57.5,"p":600,"l":8,"g":5},{"k":"c","x":60,"p":600,"l":8,"g":5},
{"k":"c","x":42.5,"p":700,"l":12,"g":340},{"k":"c","x":45,"p":700,"l":12,"g":340},{"k":"c","x":47.5,"p":700,"l":12,"g":340},{"k":"c","x":50,"p":700,"l":12,"g":340},
{"k":"d","x":47.5,"p":30,"l":6,"g":5},{"k":"d","x":50,"p":30,"l":6,"g":5},{"k":"d","x":52.5,"p":30,"l":6,"g":5},{"k":"d","x":55,"p":30,"l":6,"g":5},{"k":"d","x":57.5,"p":30,"l":6,"g":5},{"k":"d","x":60,"p":30,"l":6,"g":5},{"k":"d","x":62.5,"p":30,"l":6,"g":5},{"k":"d","x":65,"p":30,"l":6,"g":5},{"k":"d","x":67.5,"p":30,"l":6,"g":5},{"k":"d","x":70,"p":30,"l":6,"g":5},
{"k":"d","x":47.5,"p":50,"l":7,"g":10},{"k":"d","x":50,"p":50,"l":7,"g":10},{"k":"d","x":52.5,"p":50,"l":7,"g":10},{"k":"d","x":55,"p":50,"l":7,"g":10},{"k":"d","x":57.5,"p":50,"l":7,"g":10},{"k":"d","x":60,"p":50,"l":7,"g":10},{"k":"d","x":62.5,"p":50,"l":7,"g":10},{"k":"d","x":65,"p":50,"l":7,"g":10},{"k":"d","x":67.5,"p":50,"l":7,"g":10},{"k":"d","x":70,"p":50,"l":7,"g":10},
{"k":"d","x":42.5,"p":70,"l":7,"g":15},{"k":"d","x":45,"p":70,"l":7,"g":15},{"k":"d","x":47.5,"p":70,"l":7,"g":15},{"k":"d","x":50,"p":70,"l":7,"g":15},{"k":"d","x":52.5,"p":70,"l":7,"g":15},{"k":"d","x":55,"p":70,"l":7,"g":15},{"k":"d","x":57.5,"p":70,"l":7,"g":15},{"k":"d","x":60,"p":70,"l":7,"g":15},{"k":"d","x":62.5,"p":70,"l":7,"g":15},{"k":"d","x":65,"p":70,"l":7,"g":15},{"k":"d","x":67.5,"p":70,"l":7,"g":15},{"k":"d","x":70,"p":70,"l":7,"g":15},
{"k":"d","x":22.5,"p":100,"l":6,"g":270},{"k":"d","x":25,"p":100,"l":6,"g":270},{"k":"d","x":27.5,"p":100,"l":6,"g":270},{"k":"d","x":30,"p":100,"l":6,"g":270},{"k":"d","x":32.5,"p":100,"l":6,"g":270},{"k":"d","x":35,"p":100,"l":6,"g":270},{"k":"d","x":37.5,"p":100,"l":6,"g":270},
{"k":"d","x":40,"p":100,"l":8,"g":15},{"k":"d","x":42.5,"p":100,"l":8,"g":15},{"k":"d","x":45,"p":100,"l":8,"g":15},{"k":"d","x":47.5,"p":100,"l":8,"g":15},{"k":"d","x":50,"p":100,"l":8,"g":15},{"k":"d","x":52.5,"p":100,"l":8,"g":15},{"k":"d","x":55,"p":100,"l":8,"g":15},{"k":"d","x":57.5,"p":100,"l":8,"g":15},{"k":"d","x":60,"p":100,"l":8,"g":15},{"k":"d","x":62.5,"p":100,"l":8,"g":15},{"k":"d","x":65,"p":100,"l":8,"g":15},
{"k":"d","x":22.5,"p":150,"l":9,"g":275},{"k":"d","x":25,"p":150,"l":9,"g":275},{"k":"d","x":27.5,"p":150,"l":9,"g":275},{"k":"d","x":30,"p":150,"l":9,"g":275},{"k":"d","x":32.5,"p":150,"l":9,"g":275},{"k":"d","x":35,"p":150,"l":9,"g":275},
{"k":"d","x":37.5,"p":150,"l":9,"g":330},{"k":"d","x":40,"p":150,"l":9,"g":330},{"k":"d","x":42.5,"p":150,"l":9,"g":330},{"k":"d","x":45,"p":150,"l":9,"g":330},
{"k":"d","x":47.5,"p":150,"l":9,"g":15},{"k":"d","x":50,"p":150,"l":9,"g":15},{"k":"d","x":52.5,"p":150,"l":9,"g":15},{"k":"d","x":55,"p":150,"l":9,"g":15},{"k":"d","x":57.5,"p":150,"l":9,"g":15},{"k":"d","x":60,"p":150,"l":9,"g":15},{"k":"d","x":62.5,"p":150,"l":9,"g":15},{"k":"d","x":65,"p":150,"l":9,"g":15},
{"k":"d","x":22.5,"p":200,"l":10,"g":290},{"k":"d","x":25,"p":200,"l":10,"g":290},{"k":"d","x":27.5,"p":200,"l":10,"g":290},{"k":"d","x":30,"p":200,"l":10,"g":290},{"k":"d","x":32.5,"p":200,"l":10,"g":290},{"k":"d","x":35,"p":200,"l":10,"g":290},{"k":"d","x":37.5,"p":200,"l":10,"g":290},
{"k":"d","x":40,"p":200,"l":12,"g":330},{"k":"d","x":42.5,"p":200,"l":12,"g":330},{"k":"d","x":45,"p":200,"l":12,"g":330},
{"k":"d","x":47.5,"p":200,"l":12,"g":10},{"k":"d","x":50,"p":200,"l":12,"g":10},{"k":"d","x":52.5,"p":200,"l":12,"g":10},{"k":"d","x":55,"p":200,"l":12,"g":10},{"k":"d","x":57.5,"p":200,"l":12,"g":10},{"k":"d","x":60,"p":200,"l":12,"g":10},{"k":"d","x":62.5,"p":200,"l":12,"g":10},
{"k":"d","x":65,"p":200,"l":6,"g":60},{"k":"d","x":67.5,"p":200,"l":6,"g":60},{"k":"d","x":70,"p":200,"l":6,"g":60},{"k":"d","x":72.5,"p":200,"l":6,"g":60},{"k":"d","x":75,"p":200,"l":6,"g":60},
{"k":"d","x":22.5,"p":250,"l":12,"g":295},{"k":"d","x":25,"p":250,"l":12,"g":295},{"k":"d","x":27.5,"p":250,"l":12,"g":295},{"k":"d","x":30,"p":250,"l":12,"g":295},{"k":"d","x":32.5,"p":250,"l":12,"g":295},{"k":"d","x":35,"p":250,"l":12,"g":295},{"k":"d","x":37.5,"p":250,"l":12,"g":295},
{"k":"d","x":40,"p":250,"l":16,"g":335},{"k":"d","x":42.5,"p":250,"l":16,"g":335},{"k":"d","x":45,"p":250,"l":16,"g":335},
{"k":"d","x":47.5,"p":250,"l":16,"g":5},{"k":"d","x":50,"p":250,"l":16,"g":5},{"k":"d","x":52.5,"p":250,"l":16,"g":5},{"k":"d","x":55,"p":250,"l":16,"g":5},{"k":"d","x":57.5,"p":250,"l":16,"g":5},{"k":"d","x":60,"p":250,"l":16,"g":5},{"k":"d","x":62.5,"p":250,"l":16,"g":5},
{"k":"d","x":65,"p":250,"l":8,"g":50},{"k":"d","x":67.5,"p":250,"l":8,"g":50},{"k":"d","x":70,"p":250,"l":8,"g":50},{"k":"d","x":72.5,"p":250,"l":8,"g":50},
{"k":"d","x":22.5,"p":300,"l":12,"g":300},{"k":"d","x":25,"p":300,"l":12,"g":300},{"k":"d","x":27.5,"p":300,"l":12,"g":300},{"k":"d","x":30,"p":300,"l":12,"g":300},{"k":"d","x":32.5,"p":300,"l":12,"g":300},{"k":"d","x":35,"p":300,"l":12,"g":300},{"k":"d","x":37.5,"p":300,"l":12,"g":300},
{"k":"d","x":40,"p":300,"l":20,"g":340},{"k":"d","x":42.5,"p":300,"l":20,"g":340},{"k":"d","x":45,"p":300,"l":20,"g":340},
{"k":"d","x":47.5,"p":300,"l":20,"g":5},{"k":"d","x":50,"p":300,"l":20,"g":5},{"k":"d","x":52.5,"p":300,"l":20,"g":5},{"k":"d","x":55,"p":300,"l":20,"g":5},{"k":"d","x":57.5,"p":300,"l":20,"g":5},{"k":"d","x":60,"p":300,"l":20,"g":5},{"k":"d","x":62.5,"p":300,"l":20,"g":5},
{"k":"d","x":65,"p":300,"l":8,"g":40},{"k":"d","x":67.5,"p":300,"l":8,"g":40},{"k":"d","x":70,"p":300,"l":8,"g":40},{"k":"d","x":72.5,"p":300,"l":8,"g":40},
{"k":"d","x":22.5,"p":400,"l":10,"g":310},{"k":"d","x":25,"p":400,"l":10,"g":310},{"k":"d","x":27.5,"p":400,"l":10,"g":310},{"k":"d","x":30,"p":400,"l":10,"g":310},{"k":"d","x":32.5,"p":400,"l":10,"g":310},{"k":"d","x":35,"p":400,"l":10,"g":310},{"k":"d","x":37.5,"p":400,"l":10,"g":310},
{"k":"d","x":40,"p":400,"l":24,"g":340},{"k":"d","x":42.5,"p":400,"l":24,"g":340},{"k":"d","x":45,"p":400,"l":24,"g":340},
{"k":"d","x":47.5,"p":400,"l":24,"g":5},{"k":"d","x":50,"p":400,"l":24,"g":5},{"k":"d","x":52.5,"p":400,"l":24,"g":5},{"k":"d","x":55,"p":400,"l":24,"g":5},{"k":"d","x":57.5,"p":400,"l":24,"g":5},{"k":"d","x":60,"p":400,"l":24,"g":5},
{"k":"d","x":62.5,"p":400,"l":10,"g":30},{"k":"d","x":65,"p":400,"l":10,"g":30},{"k":"d","x":67.5,"p":400,"l":10,"g":30},{"k":"d","x":70,"p":400,"l":10,"g":30},
{"k":"d","x":25,"p":500,"l":9,"g":320},{"k":"d","x":27.5,"p":500,"l":9,"g":320},{"k":"d","x":30,"p":500,"l":9,"g":320},{"k":"d","x":32.5,"p":500,"l":9,"g":320},{"k":"d","x":35,"p":500,"l":9,"g":320},{"k":"d","x":37.5,"p":500,"l":9,"g":320},
{"k":"d","x":40,"p":500,"l":26,"g":345},{"k":"d","x":42.5,"p":500,"l":26,"g":345},{"k":"d","x":45,"p":500,"l":26,"g":345},
{"k":"d","x":47.5,"p":500,"l":28,"g":3},{"k":"d","x":50,"p":500,"l":28,"g":3},{"k":"d","x":52.5,"p":500,"l":28,"g":3},{"k":"d","x":55,"p":500,"l":28,"g":3},{"k":"d","x":57.5,"p":500,"l":28,"g":3},{"k":"d","x":60,"p":500,"l":28,"g":3},
{"k":"d","x":62.5,"p":500,"l":10,"g":20},{"k":"d","x":65,"p":500,"l":10,"g":20},{"k":"d","x":67.5,"p":500,"l":10,"g":20},{"k":"d","x":70,"p":500,"l":10,"g":20},
{"k":"d","x":30,"p":600,"l":8,"g":330},{"k":"d","x":32.5,"p":600,"l":8,"g":330},{"k":"d","x":35,"p":600,"l":8,"g":330},{"k":"d","x":37.5,"p":600,"l":8,"g":330},
{"k":"d","x":40,"p":600,"l":26,"g":350},{"k":"d","x":42.5,"p":600,"l":26,"g":350},{"k":"d","x":45,"p":600,"l":26,"g":350},
{"k":"d","x":47.5,"p":600,"l":30,"g":0},{"k":"d","x":50,"p":600,"l":30,"g":0},{"k":"d","x":52.5,"p":600,"l":30,"g":0},{"k":"d","x":55,"p":600,"l":30,"g":0},{"k":"d","x":57.5,"p":600,"l":30,"g":0},{"k":"d","x":60,"p":600,"l":30,"g":0},
{"k":"d","x":62.5,"p":600,"l":8,"g":15},{"k":"d","x":65,"p":600,"l":8,"g":15},{"k":"d","x":67.5,"p":600,"l":8,"g":15},{"k":"d","x":70,"p":600,"l":8,"g":15},
{"k":"d","x":35,"p":700,"l":20,"g":350},{"k":"d","x":37.5,"p":700,"l":20,"g":350},{"k":"d","x":40,"p":700,"l":20,"g":350},{"k":"d","x":42.5,"p":700,"l":20,"g":350},{"k":"d","x":45,"p":700,"l":20,"g":350},
{"k":"d","x":47.5,"p":700,"l":30,"g":0},{"k":"d","x":50,"p":700,"l":30,"g":0},{"k":"d","x":52.5,"p":700,"l":30,"g":0},{"k":"d","x":55,"p":700,"l":30,"g":0},{"k":"d","x":57.5,"p":700,"l":30,"g":0},
{"k":"e","x":47.5,"p":30,"l":6,"g":5},{"k":"e","x":50,"p":30,"l":6,"g":5},{"k":"e","x":52.5,"p":30,"l":6,"g":5},{"k":"e","x":55,"p":30,"l":6,"g":5},{"k":"e","x":57.5,"p":30,"l":6,"g":5},{"k":"e","x":60,"p":30,"l":6,"g":5},{"k":"e","x":62.5,"p":30,"l":6,"g":5},{"k":"e","x":65,"p":30,"l":6,"g":5},{"k":"e","x":67.5,"p":30,"l":6,"g":5},{"k":"e","x":70,"p":30,"l":6,"g":5},
{"k":"e","x":47.5,"p":50,"l":7,"g":15},{"k":"e","x":50,"p":50,"l":7,"g":15},{"k":"e","x":52.5,"p":50,"l":7,"g":15},{"k":"e","x":55,"p":50,"l":7,"g":15},{"k":"e","x":57.5,"p":50,"l":7,"g":15},{"k":"e","x":60,"p":50,"l":7,"g":15},{"k":"e","x":62.5,"p":50,"l":7,"g":15},{"k":"e","x":65,"p":50,"l":7,"g":15},{"k":"e","x":67.5,"p":50,"l":7,"g":15},{"k":"e","x":70,"p":50,"l":7,"g":15},{"k":"e","x":72.5,"p":50,"l":7,"g":15},
{"k":"e","x":45,"p":70,"l":7,"g":20},{"k":"e","x":47.5,"p":70,"l":7,"g":20},{"k":"e","x":50,"p":70,"l":7,"g":20},{"k":"e","x":52.5,"p":70,"l":7,"g":20},{"k":"e","x":55,"p":70,"l":7,"g":20},{"k":"e","x":57.5,"p":70,"l":7,"g":20},{"k":"e","x":60,"p":70,"l":7,"g":20},{"k":"e","x":62.5,"p":70,"l":7,"g":20},{"k":"e","x":65,"p":70,"l":7,"g":20},{"k":"e","x":67.5,"p":70,"l":7,"g":20},{"k":"e","x":70,"p":70,"l":7,"g":20},{"k":"e","x":72.5,"p":70,"l":7,"g":20},
{"k":"e","x":22.5,"p":100,"l":7,"g":270},{"k":"e","x":25,"p":100,"l":7,"g":270},{"k":"e","x":27.5,"p":100,"l":7,"g":270},{"k":"e","x":30,"p":100,"l":7,"g":270},{"k":"e","x":32.5,"p":100,"l":7,"g":270},{"k":"e","x":35,"p":100,"l":7,"g":270},{"k":"e","x":37.5,"p":100,"l":7,"g":270},
{"k":"e","x":40,"p":100,"l":8,"g":15},{"k":"e","x":42.5,"p":100,"l":8,"g":15},{"k":"e","x":45,"p":100,"l":8,"g":15},{"k":"e","x":47.5,"p":100,"l":8,"g":15},{"k":"e","x":50,"p":100,"l":8,"g":15},{"k":"e","x":52.5,"p":100,"l":8,"g":15},{"k":"e","x":55,"p":100,"l":8,"g":15},{"k":"e","x":57.5,"p":100,"l":8,"g":15},{"k":"e","x":60,"p":100,"l":8,"g":15},{"k":"e","x":62.5,"p":100,"l":8,"g":15},{"k":"e","x":65,"p":100,"l":8,"g":15},{"k":"e","x":67.5,"p":100,"l":8,"g":15},
{"k":"e","x":22.5,"p":150,"l":12,"g":275},{"k":"e","x":25,"p":150,"l":12,"g":275},{"k":"e","x":27.5,"p":150,"l":12,"g":275},{"k":"e","x":30,"p":150,"l":12,"g":275},{"k":"e","x":32.5,"p":150,"l":12,"g":275},{"k":"e","x":35,"p":150,"l":12,"g":275},
{"k":"e","x":37.5,"p":150,"l":10,"g":335},{"k":"e","x":40,"p":150,"l":10,"g":335},{"k":"e","x":42.5,"p":150,"l":10,"g":335},{"k":"e","x":45,"p":150,"l":10,"g":335},
{"k":"e","x":47.5,"p":150,"l":9,"g":15},{"k":"e","x":50,"p":150,"l":9,"g":15},{"k":"e","x":52.5,"p":150,"l":9,"g":15},{"k":"e","x":55,"p":150,"l":9,"g":15},{"k":"e","x":57.5,"p":150,"l":9,"g":15},{"k":"e","x":60,"p":150,"l":9,"g":15},{"k":"e","x":62.5,"p":150,"l":9,"g":15},{"k":"e","x":65,"p":150,"l":9,"g":15},
{"k":"e","x":67.5,"p":150,"l":6,"g":60},{"k":"e","x":70,"p":150,"l":6,"g":60},{"k":"e","x":72.5,"p":150,"l":6,"g":60},{"k":"e","x":75,"p":150,"l":6,"g":60},
{"k":"e","x":22.5,"p":200,"l":14,"g":290},{"k":"e","x":25,"p":200,"l":14,"g":290},{"k":"e","x":27.5,"p":200,"l":14,"g":290},{"k":"e","x":30,"p":200,"l":14,"g":290},{"k":"e","x":32.5,"p":200,"l":14,"g":290},{"k":"e","x":35,"p":200,"l":14,"g":290},{"k":"e","x":37.5,"p":200,"l":14,"g":290},
{"k":"e","x":40,"p":200,"l":16,"g":335},{"k":"e","x":42.5,"p":200,"l":16,"g":335},{"k":"e","x":45,"p":200,"l":16,"g":335},
{"k":"e","x":47.5,"p":200,"l":14,"g":10},{"k":"e","x":50,"p":200,"l":14,"g":10},{"k":"e","x":52.5,"p":200,"l":14,"g":10},{"k":"e","x":55,"p":200,"l":14,"g":10},{"k":"e","x":57.5,"p":200,"l":14,"g":10},{"k":"e","x":60,"p":200,"l":14,"g":10},{"k":"e","x":62.5,"p":200,"l":14,"g":10},
{"k":"e","x":65,"p":200,"l":7,"g":60},{"k":"e","x":67.5,"p":200,"l":7,"g":60},{"k":"e","x":70,"p":200,"l":7,"g":60},{"k":"e","x":72.5,"p":200,"l":7,"g":60},{"k":"e","x":75,"p":200,"l":7,"g":60},
{"k":"e","x":22.5,"p":250,"l":16,"g":295},{"k":"e","x":25,"p":250,"l":16,"g":295},{"k":"e","x":27.5,"p":250,"l":16,"g":295},{"k":"e","x":30,"p":250,"l":16,"g":295},{"k":"e","x":32.5,"p":250,"l":16,"g":295},{"k":"e","x":35,"p":250,"l":16,"g":295},{"k":"e","x":37.5,"p":250,"l":16,"g":295},
{"k":"e","x":40,"p":250,"l":24,"g":335},{"k":"e","x":42.5,"p":250,"l":24,"g":335},{"k":"e","x":45,"p":250,"l":24,"g":335},
{"k":"e","x":47.5,"p":250,"l":20,"g":5},{"k":"e","x":50,"p":250,"l":20,"g":5},{"k":"e","x":52.5,"p":250,"l":20,"g":5},{"k":"e","x":55,"p":250,"l":20,"g":5},{"k":"e","x":57.5,"p":250,"l":20,"g":5},{"k":"e","x":60,"p":250,"l":20,"g":5},{"k":"e","x":62.5,"p":250,"l":20,"g":5},
{"k":"e","x":65,"p":250,"l":9,"g":50},{"k":"e","x":67.5,"p":250,"l":9,"g":50},{"k":"e","x":70,"p":250,"l":9,"g":50},{"k":"e","x":72.5,"p":250,"l":9,"g":50},
{"k":"e","x":22.5,"p":300,"l":15,"g":300},{"k":"e","x":25,"p":300,"l":15,"g":300},{"k":"e","x":27.5,"p":300,"l":15,"g":300},{"k":"e","x":30,"p":300,"l":15,"g":300},{"k":"e","x":32.5,"p":300,"l":15,"g":300},{"k":"e","x":35,"p":300,"l":15,"g":300},{"k":"e","x":37.5,"p":300,"l":15,"g":300},
{"k":"e","x":40,"p":300,"l":30,"g":340},{"k":"e","x":42.5,"p":300,"l":30,"g":340},{"k":"e","x":45,"p":300,"l":30,"g":340},
{"k":"e","x":47.5,"p":300,"l":28,"g":3},{"k":"e","x":50,"p":300,"l":28,"g":3},{"k":"e","x":52.5,"p":300,"l":28,"g":3},{"k":"e","x":55,"p":300,"l":28,"g":3},{"k":"e","x":57.5,"p":300,"l":28,"g":3},{"k":"e","x":60,"p":300,"l":28,"g":3},{"k":"e","x":62.5,"p":300,"l":28,"g":3},
{"k":"e","x":65,"p":300,"l":9,"g":40},{"k":"e","x":67.5,"p":300,"l":9,"g":40},{"k":"e","x":70,"p":300,"l":9,"g":40},{"k":"e","x":72.5,"p":300,"l":9,"g":40},
{"k":"e","x":22.5,"p":400,"l":12,"g":310},{"k":"e","x":25,"p":400,"l":12,"g":310},{"k":"e","x":27.5,"p":400,"l":12,"g":310},{"k":"e","x":30,"p":400,"l":12,"g":310},{"k":"e","x":32.5,"p":400,"l":12,"g":310},{"k":"e","x":35,"p":400,"l":12,"g":310},{"k":"e","x":37.5,"p":400,"l":12,"g":310},
{"k":"e","x":40,"p":400,"l":34,"g":340},{"k":"e","x":42.5,"p":400,"l":34,"g":340},{"k":"e","x":45,"p":400,"l":34,"g":340},
{"k":"e","x":47.5,"p":400,"l":34,"g":2},{"k":"e","x":50,"p":400,"l":34,"g":2},{"k":"e","x":52.5,"p":400,"l":34,"g":2},{"k":"e","x":55,"p":400,"l":34,"g":2},{"k":"e","x":57.5,"p":400,"l":34,"g":2},{"k":"e","x":60,"p":400,"l":34,"g":2},
{"k":"e","x":62.5,"p":400,"l":12,"g":30},{"k":"e","x":65,"p":400,"l":12,"g":30},{"k":"e","x":67.5,"p":400,"l":12,"g":30},{"k":"e","x":70,"p":400,"l":12,"g":30},
{"k":"e","x":25,"p":500,"l":11,"g":320},{"k":"e","x":27.5,"p":500,"l":11,"g":320},{"k":"e","x":30,"p":500,"l":11,"g":320},{"k":"e","x":32.5,"p":500,"l":11,"g":320},{"k":"e","x":35,"p":500,"l":11,"g":320},{"k":"e","x":37.5,"p":500,"l":11,"g":320},
{"k":"e","x":40,"p":500,"l":36,"g":345},{"k":"e","x":42.5,"p":500,"l":36,"g":345},{"k":"e","x":45,"p":500,"l":36,"g":345},
{"k":"e","x":47.5,"p":500,"l":40,"g":0},{"k":"e","x":50,"p":500,"l":40,"g":0},{"k":"e","x":52.5,"p":500,"l":40,"g":0},{"k":"e","x":55,"p":500,"l":40,"g":0},{"k":"e","x":57.5,"p":500,"l":40,"g":0},{"k":"e","x":60,"p":500,"l":40,"g":0},
{"k":"e","x":62.5,"p":500,"l":12,"g":20},{"k":"e","x":65,"p":500,"l":12,"g":20},{"k":"e","x":67.5,"p":500,"l":12,"g":20},{"k":"e","x":70,"p":500,"l":12,"g":20},
{"k":"e","x":30,"p":600,"l":9,"g":330},{"k":"e","x":32.5,"p":600,"l":9,"g":330},{"k":"e","x":35,"p":600,"l":9,"g":330},{"k":"e","x":37.5,"p":600,"l":9,"g":330},
{"k":"e","x":40,"p":600,"l":36,"g":350},{"k":"e","x":42.5,"p":600,"l":36,"g":350},{"k":"e","x":45,"p":600,"l":36,"g":350},
{"k":"e","x":47.5,"p":600,"l":40,"g":0},{"k":"e","x":50,"p":600,"l":40,"g":0},{"k":"e","x":52.5,"p":600,"l":40,"g":0},{"k":"e","x":55,"p":600,"l":40,"g":0},{"k":"e","x":57.5,"p":600,"l":40,"g":0},{"k":"e","x":60,"p":600,"l":40,"g":0},
{"k":"e","x":62.5,"p":600,"l":9,"g":15},{"k":"e","x":65,"p":600,"l":9,"g":15},{"k":"e","x":67.5,"p":600,"l":9,"g":15},{"k":"e","x":70,"p":600,"l":9,"g":15},
{"k":"e","x":35,"p":700,"l":26,"g":350},{"k":"e","x":37.5,"p":700,"l":26,"g":350},{"k":"e","x":40,"p":700,"l":26,"g":350},{"k":"e","x":42.5,"p":700,"l":26,"g":350},{"k":"e","x":45,"p":700,"l":26,"g":350},
{"k":"e","x":47.5,"p":700,"l":36,"g":0},{"k":"e","x":50,"p":700,"l":36,"g":0},{"k":"e","x":52.5,"p":700,"l":36,"g":0},{"k":"e","x":55,"p":700,"l":36,"g":0},{"k":"e","x":57.5,"p":700,"l":36,"g":0},
{"k":"f","x":27.5,"p":200,"l":4,"g":290},{"k":"f","x":30,"p":200,"l":4,"g":290},{"k":"f","x":32.5,"p":200,"l":4,"g":290},{"k":"f","x":35,"p":200,"l":4,"g":290},{"k":"f","x":37.5,"p":200,"l":4,"g":290},{"k":"f","x":40,"p":200,"l":4,"g":290},{"k":"f","x":42.5,"p":200,"l":4,"g":290},{"k":"f","x":45,"p":200,"l":4,"g":290},
{"k":"f","x":25,"p":250,"l":6,"g":295},{"k":"f","x":27.5,"p":250,"l":6,"g":295},{"k":"f","x":30,"p":250,"l":6,"g":295},{"k":"f","x":32.5,"p":250,"l":6,"g":295},{"k":"f","x":35,"p":250,"l":6,"g":295},{"k":"f","x":37.5,"p":250,"l":6,"g":295},{"k":"f","x":40,"p":250,"l":6,"g":295},{"k":"f","x":42.5,"p":250,"l":6,"g":295},{"k":"f","x":45,"p":250,"l":6,"g":295},{"k":"f","x":47.5,"p":250,"l":6,"g":295},{"k":"f","x":50,"p":250,"l":6,"g":295},
{"k":"f","x":27.5,"p":300,"l":7,"g":305},{"k":"f","x":30,"p":300,"l":7,"g":305},{"k":"f","x":32.5,"p":300,"l":7,"g":305},{"k":"f","x":35,"p":300,"l":7,"g":305},{"k":"f","x":37.5,"p":300,"l":7,"g":305},{"k":"f","x":40,"p":300,"l":7,"g":305},{"k":"f","x":42.5,"p":300,"l":7,"g":305},{"k":"f","x":45,"p":300,"l":7,"g":305},{"k":"f","x":47.5,"p":300,"l":7,"g":305},{"k":"f","x":50,"p":300,"l":7,"g":305},
{"k":"f","x":32.5,"p":400,"l":7,"g":320},{"k":"f","x":35,"p":400,"l":7,"g":320},{"k":"f","x":37.5,"p":400,"l":7,"g":320},{"k":"f","x":40,"p":400,"l":7,"g":320},{"k":"f","x":42.5,"p":400,"l":7,"g":320},{"k":"f","x":45,"p":400,"l":7,"g":320},{"k":"f","x":47.5,"p":400,"l":7,"g":320},{"k":"f","x":50,"p":400,"l":7,"g":320},
{"k":"f","x":52.5,"p":400,"l":5,"g":10},{"k":"f","x":55,"p":400,"l":5,"g":10},{"k":"f","x":57.5,"p":400,"l":5,"g":10},
{"k":"f","x":37.5,"p":500,"l":6,"g":330},{"k":"f","x":40,"p":500,"l":6,"g":330},{"k":"f","x":42.5,"p":500,"l":6,"g":330},{"k":"f","x":45,"p":500,"l":6,"g":330},{"k":"f","x":47.5,"p":500,"l":6,"g":330},{"k":"f","x":50,"p":500,"l":6,"g":330},{"k":"f","x":52.5,"p":500,"l":6,"g":330},
{"k":"f","x":55,"p":500,"l":5,"g":10},{"k":"f","x":57.5,"p":500,"l":5,"g":10},{"k":"f","x":60,"p":500,"l":5,"g":10},
{"k":"f","x":45,"p":600,"l":5,"g":340},{"k":"f","x":47.5,"p":600,"l":5,"g":340},{"k":"f","x":50,"p":600,"l":5,"g":340},{"k":"f","x":52.5,"p":600,"l":5,"g":340},
{"k":"f","x":55,"p":600,"l":6,"g":5},{"k":"f","x":57.5,"p":600,"l":6,"g":5},{"k":"f","x":60,"p":600,"l":6,"g":5},
{"k":"f","x":50,"p":700,"l":5,"g":0},{"k":"f","x":52.5,"p":700,"l":5,"g":0},{"k":"f","x":55,"p":700,"l":5,"g":0},{"k":"f","x":57.5,"p":700,"l":5,"g":0}
]
},
"vconcat":[
{"vconcat":[
{"hconcat":[
{"width":286,"height":207,"title":{"text":"a)","dx":-32,"offset":10},"resolve":{"axis":{"x":"independent"}},"layer":[
{"data":{"name":"G"},"mark":{"type":"circle","size":1.5,"color":"#000","opacity":1},"encoding":{"x":{"field":"x","type":"quantitative","scale":{"domain":[20,85],"nice":false,"zero":false},"axis":{"values":[20,25,30,35,40,45,50,55,60,65,70,75,80,85],"labelExpr":"datum.value+'N'","title":null}},"y":{"field":"p","type":"quantitative","scale":{"type":"log","domain":[20,700],"reverse":true,"nice":false},"axis":{"values":[20,30,50,70,100,150,200,250,300,400,500,600,700],"title":"hPc"}}}},
{"data":{"name":"G"},"mark":{"type":"circle","opacity":0},"encoding":{"x":{"field":"x","type":"quantitative","axis":{"orient":"top","title":"EP flux and div. ZWN1 stat. DJF (NCEP 1958-2002)","labels":false,"ticks":false,"domain":false,"titlePadding":3}}}},
{"data":{"name":"S"},"transform":[{"filter":"datum.k=='a'"}],"mark":{"type":"line","color":"#333","strokeWidth":0.8},"encoding":{"x":{"field":"x","type":"quantitative","axis":null},"y":{"field":"p","type":"quantitative"},"detail":{"field":"c"},"order":{"value":null}}},
{"data":{"name":"D"},"transform":[{"filter":"datum.k=='a'"}],"mark":{"type":"line","color":"#777","strokeWidth":0.8,"strokeDash":[1.5,1.5]},"encoding":{"x":{"field":"x","type":"quantitative","axis":null},"y":{"field":"p","type":"quantitative"},"detail":{"field":"c"},"order":{"value":null}}},
{"data":{"name":"A"},"transform":[{"filter":"datum.k=='a'"}],"mark":{"type":"point","shape":"M0,1L0,-1M-0.18,-0.72L0,-1L0.18,-0.72","filled":false,"strokeWidth":0.7,"color":"#000","opacity":1},"encoding":{"x":{"field":"x","type":"quantitative","axis":null},"y":{"field":"p","type":"quantitative"},"size":{"field":"l","type":"quantitative","scale":{"type":"pow","exponent":2,"domain":[0,40],"range":[0,1600]},"legend":null},"angle":{"field":"g","type":"quantitative","scale":null}}},
{"data":{"name":"L"},"transform":[{"filter":"datum.k=='a'"}],"mark":{"type":"text","fontSize":8,"color":"#fff","stroke":"#fff","strokeWidth":3},"encoding":{"x":{"field":"x","type":"quantitative","axis":null},"y":{"field":"p","type":"quantitative"},"text":{"field":"t"}}},
{"data":{"name":"L"},"transform":[{"filter":"datum.k=='a'"}],"mark":{"type":"text","fontSize":8,"color":"#000"},"encoding":{"x":{"field":"x","type":"quantitative","axis":null},"y":{"field":"p","type":"quantitative"},"text":{"field":"t"}}},
{"data":{"name":"R"},"transform":[{"filter":"datum.k=='a'"}],"mark":{"type":"text","fontSize":5.5,"color":"#000"},"encoding":{"x":{"field":"x","type":"quantitative","axis":null},"y":{"field":"p","type":"quantitative"},"text":{"field":"t"}}},
{"data":{"name":"R"},"transform":[{"filter":"datum.k=='a'"}],"mark":{"type":"rule","color":"#000","strokeWidth":0.7},"encoding":{"x":{"field":"x1","type":"quantitative","axis":null},"x2":{"field":"x2"},"y":{"field":"q","type":"quantitative"}}}
]},
{"width":278,"height":207,"title":{"text":"b)","dx":-4,"offset":10},"resolve":{"axis":{"x":"independent"}},"layer":[
{"data":{"name":"G"},"mark":{"type":"circle","size":1.5,"color":"#000","opacity":1},"encoding":{"x":{"field":"x","type":"quantitative","scale":{"domain":[20,85],"nice":false,"zero":false},"axis":{"values":[20,25,30,35,40,45,50,55,60,65,70,75,80,85],"labelExpr":"datum.value+'N'","title":null}},"y":{"field":"p","type":"quantitative","scale":{"type":"log","domain":[20,700],"reverse":true,"nice":false},"axis":{"values":[20,30,50,70,100,150,200,250,300,400,500,600,700],"title":"hPc"}}}},
{"data":{"name":"G"},"mark":{"type":"circle","opacity":0},"encoding":{"x":{"field":"x","type":"quantitative","axis":{"orient":"top","title":"EP flux and div. ZWN2 stat. DJF (NCEP 1958-2002)","labels":false,"ticks":false,"domain":false,"titlePadding":3}}}},
{"data":{"name":"S"},"transform":[{"filter":"datum.k=='b'"}],"mark":{"type":"line","color":"#333","strokeWidth":0.8},"encoding":{"x":{"field":"x","type":"quantitative","axis":null},"y":{"field":"p","type":"quantitative"},"detail":{"field":"c"},"order":{"value":null}}},
{"data":{"name":"D"},"transform":[{"filter":"datum.k=='b'"}],"mark":{"type":"line","color":"#777","strokeWidth":0.8,"strokeDash":[1.5,1.5]},"encoding":{"x":{"field":"x","type":"quantitative","axis":null},"y":{"field":"p","type":"quantitative"},"detail":{"field":"c"},"order":{"value":null}}},
{"data":{"name":"A"},"transform":[{"filter":"datum.k=='b'"}],"mark":{"type":"point","shape":"M0,1L0,-1M-0.18,-0.72L0,-1L0.18,-0.72","filled":false,"strokeWidth":0.7,"color":"#000","opacity":1},"encoding":{"x":{"field":"x","type":"quantitative","axis":null},"y":{"field":"p","type":"quantitative"},"size":{"field":"l","type":"quantitative","scale":{"type":"pow","exponent":2,"domain":[0,40],"range":[0,1600]},"legend":null},"angle":{"field":"g","type":"quantitative","scale":null}}},
{"data":{"name":"L"},"transform":[{"filter":"datum.k=='b'"}],"mark":{"type":"text","fontSize":8,"color":"#fff","stroke":"#fff","strokeWidth":3},"encoding":{"x":{"field":"x","type":"quantitative","axis":null},"y":{"field":"p","type":"quantitative"},"text":{"field":"t"}}},
{"data":{"name":"L"},"transform":[{"filter":"datum.k=='b'"}],"mark":{"type":"text","fontSize":8,"color":"#000"},"encoding":{"x":{"field":"x","type":"quantitative","axis":null},"y":{"field":"p","type":"quantitative"},"text":{"field":"t"}}},
{"data":{"name":"R"},"transform":[{"filter":"datum.k=='b'"}],"mark":{"type":"text","fontSize":5.5,"color":"#000"},"encoding":{"x":{"field":"x","type":"quantitative","axis":null},"y":{"field":"p","type":"quantitative"},"text":{"field":"t"}}},
{"data":{"name":"R"},"transform":[{"filter":"datum.k=='b'"}],"mark":{"type":"rule","color":"#000","strokeWidth":0.7},"encoding":{"x":{"field":"x1","type":"quantitative","axis":null},"x2":{"field":"x2"},"y":{"field":"q","type":"quantitative"}}}
]}
],"spacing":17},
{"hconcat":[
{"width":286,"height":207,"title":{"text":"c)","dx":-32,"offset":0},"resolve":{"axis":{"x":"independent"}},"layer":[
{"data":{"name":"G"},"mark":{"type":"circle","size":1.5,"color":"#000","opacity":1},"encoding":{"x":{"field":"x","type":"quantitative","scale":{"domain":[20,85],"nice":false,"zero":false},"axis":{"values":[20,25,30,35,40,45,50,55,60,65,70,75,80,85],"labelExpr":"datum.value+'N'","title":null}},"y":{"field":"p","type":"quantitative","scale":{"type":"log","domain":[20,700],"reverse":true,"nice":false},"axis":{"values":[20,30,50,70,100,150,200,250,300,400,500,600,700],"title":"hPc"}}}},
{"data":{"name":"G"},"mark":{"type":"circle","opacity":0},"encoding":{"x":{"field":"x","type":"quantitative","axis":{"orient":"top","title":"EP flux and div. ZWN3 stat. DJF (NCEP 1958-2002)","labels":false,"ticks":false,"domain":false,"titlePadding":9}}}},
{"data":{"name":"S"},"transform":[{"filter":"datum.k=='c'"}],"mark":{"type":"line","color":"#333","strokeWidth":0.8},"encoding":{"x":{"field":"x","type":"quantitative","axis":null},"y":{"field":"p","type":"quantitative"},"detail":{"field":"c"},"order":{"value":null}}},
{"data":{"name":"D"},"transform":[{"filter":"datum.k=='c'"}],"mark":{"type":"line","color":"#777","strokeWidth":0.8,"strokeDash":[1.5,1.5]},"encoding":{"x":{"field":"x","type":"quantitative","axis":null},"y":{"field":"p","type":"quantitative"},"detail":{"field":"c"},"order":{"value":null}}},
{"data":{"name":"A"},"transform":[{"filter":"datum.k=='c'"}],"mark":{"type":"point","shape":"M0,1L0,-1M-0.18,-0.72L0,-1L0.18,-0.72","filled":false,"strokeWidth":0.7,"color":"#000","opacity":1},"encoding":{"x":{"field":"x","type":"quantitative","axis":null},"y":{"field":"p","type":"quantitative"},"size":{"field":"l","type":"quantitative","scale":{"type":"pow","exponent":2,"domain":[0,40],"range":[0,1600]},"legend":null},"angle":{"field":"g","type":"quantitative","scale":null}}},
{"data":{"name":"L"},"transform":[{"filter":"datum.k=='c'"}],"mark":{"type":"text","fontSize":8,"color":"#fff","stroke":"#fff","strokeWidth":3},"encoding":{"x":{"field":"x","type":"quantitative","axis":null},"y":{"field":"p","type":"quantitative"},"text":{"field":"t"}}},
{"data":{"name":"L"},"transform":[{"filter":"datum.k=='c'"}],"mark":{"type":"text","fontSize":8,"color":"#000"},"encoding":{"x":{"field":"x","type":"quantitative","axis":null},"y":{"field":"p","type":"quantitative"},"text":{"field":"t"}}},
{"data":{"name":"R"},"transform":[{"filter":"datum.k=='c'"}],"mark":{"type":"text","fontSize":5.5,"color":"#000"},"encoding":{"x":{"field":"x","type":"quantitative","axis":null},"y":{"field":"p","type":"quantitative"},"text":{"field":"t"}}},
{"data":{"name":"R"},"transform":[{"filter":"datum.k=='c'"}],"mark":{"type":"rule","color":"#000","strokeWidth":0.7},"encoding":{"x":{"field":"x1","type":"quantitative","axis":null},"x2":{"field":"x2"},"y":{"field":"q","type":"quantitative"}}}
]},
{"width":285,"height":207,"title":{"text":"d)","dx":-23,"offset":0},"resolve":{"axis":{"x":"independent"}},"layer":[
{"data":{"name":"G"},"mark":{"type":"circle","size":1.5,"color":"#000","opacity":1},"encoding":{"x":{"field":"x","type":"quantitative","scale":{"domain":[20,85],"nice":false,"zero":false},"axis":{"values":[20,25,30,35,40,45,50,55,60,65,70,75,80,85],"labelExpr":"datum.value+'N'","title":null}},"y":{"field":"p","type":"quantitative","scale":{"type":"log","domain":[20,700],"reverse":true,"nice":false},"axis":{"values":[20,30,50,70,100,150,200,250,300,400,500,600,700],"title":"hPc"}}}},
{"data":{"name":"G"},"mark":{"type":"circle","opacity":0},"encoding":{"x":{"field":"x","type":"quantitative","axis":{"orient":"top","title":"EP flux and div ZWN1+2+3 stat. DJF (NCEP 1958-2002)","labels":false,"ticks":false,"domain":false,"titlePadding":9,"titleFontSize":10.6}}}},
{"data":{"name":"S"},"transform":[{"filter":"datum.k=='d'"}],"mark":{"type":"line","color":"#333","strokeWidth":0.8},"encoding":{"x":{"field":"x","type":"quantitative","axis":null},"y":{"field":"p","type":"quantitative"},"detail":{"field":"c"},"order":{"value":null}}},
{"data":{"name":"D"},"transform":[{"filter":"datum.k=='d'"}],"mark":{"type":"line","color":"#777","strokeWidth":0.8,"strokeDash":[1.5,1.5]},"encoding":{"x":{"field":"x","type":"quantitative","axis":null},"y":{"field":"p","type":"quantitative"},"detail":{"field":"c"},"order":{"value":null}}},
{"data":{"name":"A"},"transform":[{"filter":"datum.k=='d'"}],"mark":{"type":"point","shape":"M0,1L0,-1M-0.18,-0.72L0,-1L0.18,-0.72","filled":false,"strokeWidth":0.7,"color":"#000","opacity":1},"encoding":{"x":{"field":"x","type":"quantitative","axis":null},"y":{"field":"p","type":"quantitative"},"size":{"field":"l","type":"quantitative","scale":{"type":"pow","exponent":2,"domain":[0,40],"range":[0,1600]},"legend":null},"angle":{"field":"g","type":"quantitative","scale":null}}},
{"data":{"name":"L"},"transform":[{"filter":"datum.k=='d'"}],"mark":{"type":"text","fontSize":8,"color":"#fff","stroke":"#fff","strokeWidth":3},"encoding":{"x":{"field":"x","type":"quantitative","axis":null},"y":{"field":"p","type":"quantitative"},"text":{"field":"t"}}},
{"data":{"name":"L"},"transform":[{"filter":"datum.k=='d'"}],"mark":{"type":"text","fontSize":8,"color":"#000"},"encoding":{"x":{"field":"x","type":"quantitative","axis":null},"y":{"field":"p","type":"quantitative"},"text":{"field":"t"}}},
{"data":{"name":"R"},"transform":[{"filter":"datum.k=='d'"}],"mark":{"type":"text","fontSize":5.5,"color":"#000"},"encoding":{"x":{"field":"x","type":"quantitative","axis":null},"y":{"field":"p","type":"quantitative"},"text":{"field":"t"}}},
{"data":{"name":"R"},"transform":[{"filter":"datum.k=='d'"}],"mark":{"type":"rule","color":"#000","strokeWidth":0.7},"encoding":{"x":{"field":"x1","type":"quantitative","axis":null},"x2":{"field":"x2"},"y":{"field":"q","type":"quantitative"}}}
]}
],"spacing":9}
],"spacing":9},
{"hconcat":[
{"width":286,"height":202,"title":{"text":"e)","dx":-24,"offset":3},"resolve":{"axis":{"x":"independent"}},"layer":[
{"data":{"name":"G"},"mark":{"type":"circle","size":1.5,"color":"#000","opacity":1},"encoding":{"x":{"field":"x","type":"quantitative","scale":{"domain":[20,85],"nice":false,"zero":false},"axis":{"values":[20,25,30,35,40,45,50,55,60,65,70,75,80,85],"labelExpr":"datum.value+'N'","title":null}},"y":{"field":"p","type":"quantitative","scale":{"type":"log","domain":[20,700],"reverse":true,"nice":false},"axis":{"values":[20,30,50,70,100,150,200,250,300,400,500,600,700],"title":"hPc"}}}},
{"data":{"name":"G"},"mark":{"type":"circle","opacity":0},"encoding":{"x":{"field":"x","type":"quantitative","axis":{"orient":"top","title":"EP flux and div. for all ZWN stat. DJF (NCEP 1958-2002)","labels":false,"ticks":false,"domain":false,"titlePadding":4}}}},
{"data":{"name":"S"},"transform":[{"filter":"datum.k=='e'"}],"mark":{"type":"line","color":"#333","strokeWidth":0.8},"encoding":{"x":{"field":"x","type":"quantitative","axis":null},"y":{"field":"p","type":"quantitative"},"detail":{"field":"c"},"order":{"value":null}}},
{"data":{"name":"D"},"transform":[{"filter":"datum.k=='e'"}],"mark":{"type":"line","color":"#777","strokeWidth":0.8,"strokeDash":[1.5,1.5]},"encoding":{"x":{"field":"x","type":"quantitative","axis":null},"y":{"field":"p","type":"quantitative"},"detail":{"field":"c"},"order":{"value":null}}},
{"data":{"name":"A"},"transform":[{"filter":"datum.k=='e'"}],"mark":{"type":"point","shape":"M0,1L0,-1M-0.18,-0.72L0,-1L0.18,-0.72","filled":false,"strokeWidth":0.7,"color":"#000","opacity":1},"encoding":{"x":{"field":"x","type":"quantitative","axis":null},"y":{"field":"p","type":"quantitative"},"size":{"field":"l","type":"quantitative","scale":{"type":"pow","exponent":2,"domain":[0,40],"range":[0,1600]},"legend":null},"angle":{"field":"g","type":"quantitative","scale":null}}},
{"data":{"name":"L"},"transform":[{"filter":"datum.k=='e'"}],"mark":{"type":"text","fontSize":8,"color":"#fff","stroke":"#fff","strokeWidth":3},"encoding":{"x":{"field":"x","type":"quantitative","axis":null},"y":{"field":"p","type":"quantitative"},"text":{"field":"t"}}},
{"data":{"name":"L"},"transform":[{"filter":"datum.k=='e'"}],"mark":{"type":"text","fontSize":8,"color":"#000"},"encoding":{"x":{"field":"x","type":"quantitative","axis":null},"y":{"field":"p","type":"quantitative"},"text":{"field":"t"}}},
{"data":{"name":"R"},"transform":[{"filter":"datum.k=='e'"}],"mark":{"type":"text","fontSize":5.5,"color":"#000"},"encoding":{"x":{"field":"x","type":"quantitative","axis":null},"y":{"field":"p","type":"quantitative"},"text":{"field":"t"}}},
{"data":{"name":"R"},"transform":[{"filter":"datum.k=='e'"}],"mark":{"type":"rule","color":"#000","strokeWidth":0.7},"encoding":{"x":{"field":"x1","type":"quantitative","axis":null},"x2":{"field":"x2"},"y":{"field":"q","type":"quantitative"}}}
]},
{"width":285,"height":202,"title":{"text":"f)","dx":-25,"offset":3},"resolve":{"axis":{"x":"independent"}},"layer":[
{"data":{"name":"G"},"mark":{"type":"circle","size":1.5,"color":"#000","opacity":1},"encoding":{"x":{"field":"x","type":"quantitative","scale":{"domain":[20,85],"nice":false,"zero":false},"axis":{"values":[20,25,30,35,40,45,50,55,60,65,70,75,80,85],"labelExpr":"datum.value+'N'","title":null}},"y":{"field":"p","type":"quantitative","scale":{"type":"log","domain":[20,700],"reverse":true,"nice":false},"axis":{"values":[20,30,50,70,100,150,200,250,300,400,500,600,700],"title":"hPc"}}}},
{"data":{"name":"G"},"mark":{"type":"circle","opacity":0},"encoding":{"x":{"field":"x","type":"quantitative","axis":{"orient":"top","title":"EP allZWN - ZWN1to3 stat. DJF (NCEP 1958-2002)","labels":false,"ticks":false,"domain":false,"titlePadding":4}}}},
{"data":{"name":"S"},"transform":[{"filter":"datum.k=='f'"}],"mark":{"type":"line","color":"#333","strokeWidth":0.8},"encoding":{"x":{"field":"x","type":"quantitative","axis":null},"y":{"field":"p","type":"quantitative"},"detail":{"field":"c"},"order":{"value":null}}},
{"data":{"name":"D"},"transform":[{"filter":"datum.k=='f'"}],"mark":{"type":"line","color":"#777","strokeWidth":0.8,"strokeDash":[1.5,1.5]},"encoding":{"x":{"field":"x","type":"quantitative","axis":null},"y":{"field":"p","type":"quantitative"},"detail":{"field":"c"},"order":{"value":null}}},
{"data":{"name":"A"},"transform":[{"filter":"datum.k=='f'"}],"mark":{"type":"point","shape":"M0,1L0,-1M-0.18,-0.72L0,-1L0.18,-0.72","filled":false,"strokeWidth":0.7,"color":"#000","opacity":1},"encoding":{"x":{"field":"x","type":"quantitative","axis":null},"y":{"field":"p","type":"quantitative"},"size":{"field":"l","type":"quantitative","scale":{"type":"pow","exponent":2,"domain":[0,40],"range":[0,1600]},"legend":null},"angle":{"field":"g","type":"quantitative","scale":null}}},
{"data":{"name":"L"},"transform":[{"filter":"datum.k=='f'"}],"mark":{"type":"text","fontSize":8,"color":"#fff","stroke":"#fff","strokeWidth":3},"encoding":{"x":{"field":"x","type":"quantitative","axis":null},"y":{"field":"p","type":"quantitative"},"text":{"field":"t"}}},
{"data":{"name":"L"},"transform":[{"filter":"datum.k=='f'"}],"mark":{"type":"text","fontSize":8,"color":"#000"},"encoding":{"x":{"field":"x","type":"quantitative","axis":null},"y":{"field":"p","type":"quantitative"},"text":{"field":"t"}}},
{"data":{"name":"R"},"transform":[{"filter":"datum.k=='f'"}],"mark":{"type":"text","fontSize":5.5,"color":"#000"},"encoding":{"x":{"field":"x","type":"quantitative","axis":null},"y":{"field":"p","type":"quantitative"},"text":{"field":"t"}}},
{"data":{"name":"R"},"transform":[{"filter":"datum.k=='f'"}],"mark":{"type":"rule","color":"#000","strokeWidth":0.7},"encoding":{"x":{"field":"x1","type":"quantitative","axis":null},"x2":{"field":"x2"},"y":{"field":"q","type":"quantitative"}}}
]}
],"spacing":9}
],
"spacing":14,
"config":{
"view":{"stroke":"#000","strokeWidth":0.8},
"axis":{"labelFont":"Liberation Sans","labelFontSize":7,"labelColor":"#111","tickColor":"#000","domainColor":"#000","tickSize":3,"grid":false,"titleFont":"Liberation Sans","titleFontSize":7,"titleFontWeight":"normal","titleColor":"#000","labelPadding":2,"labelOverlap":false,"labelFlush":false},
"axisY":{"titlePadding":8},
"axisTop":{"titleFont":"DejaVu Sans","titleFontSize":11,"titleFontWeight":"normal","titleColor":"#222"},
"title":{"font":"Liberation Serif","fontSize":20,"fontWeight":"normal","anchor":"start","frame":"group","color":"#000"},
"text":{"font":"Liberation Sans"}
}
}
